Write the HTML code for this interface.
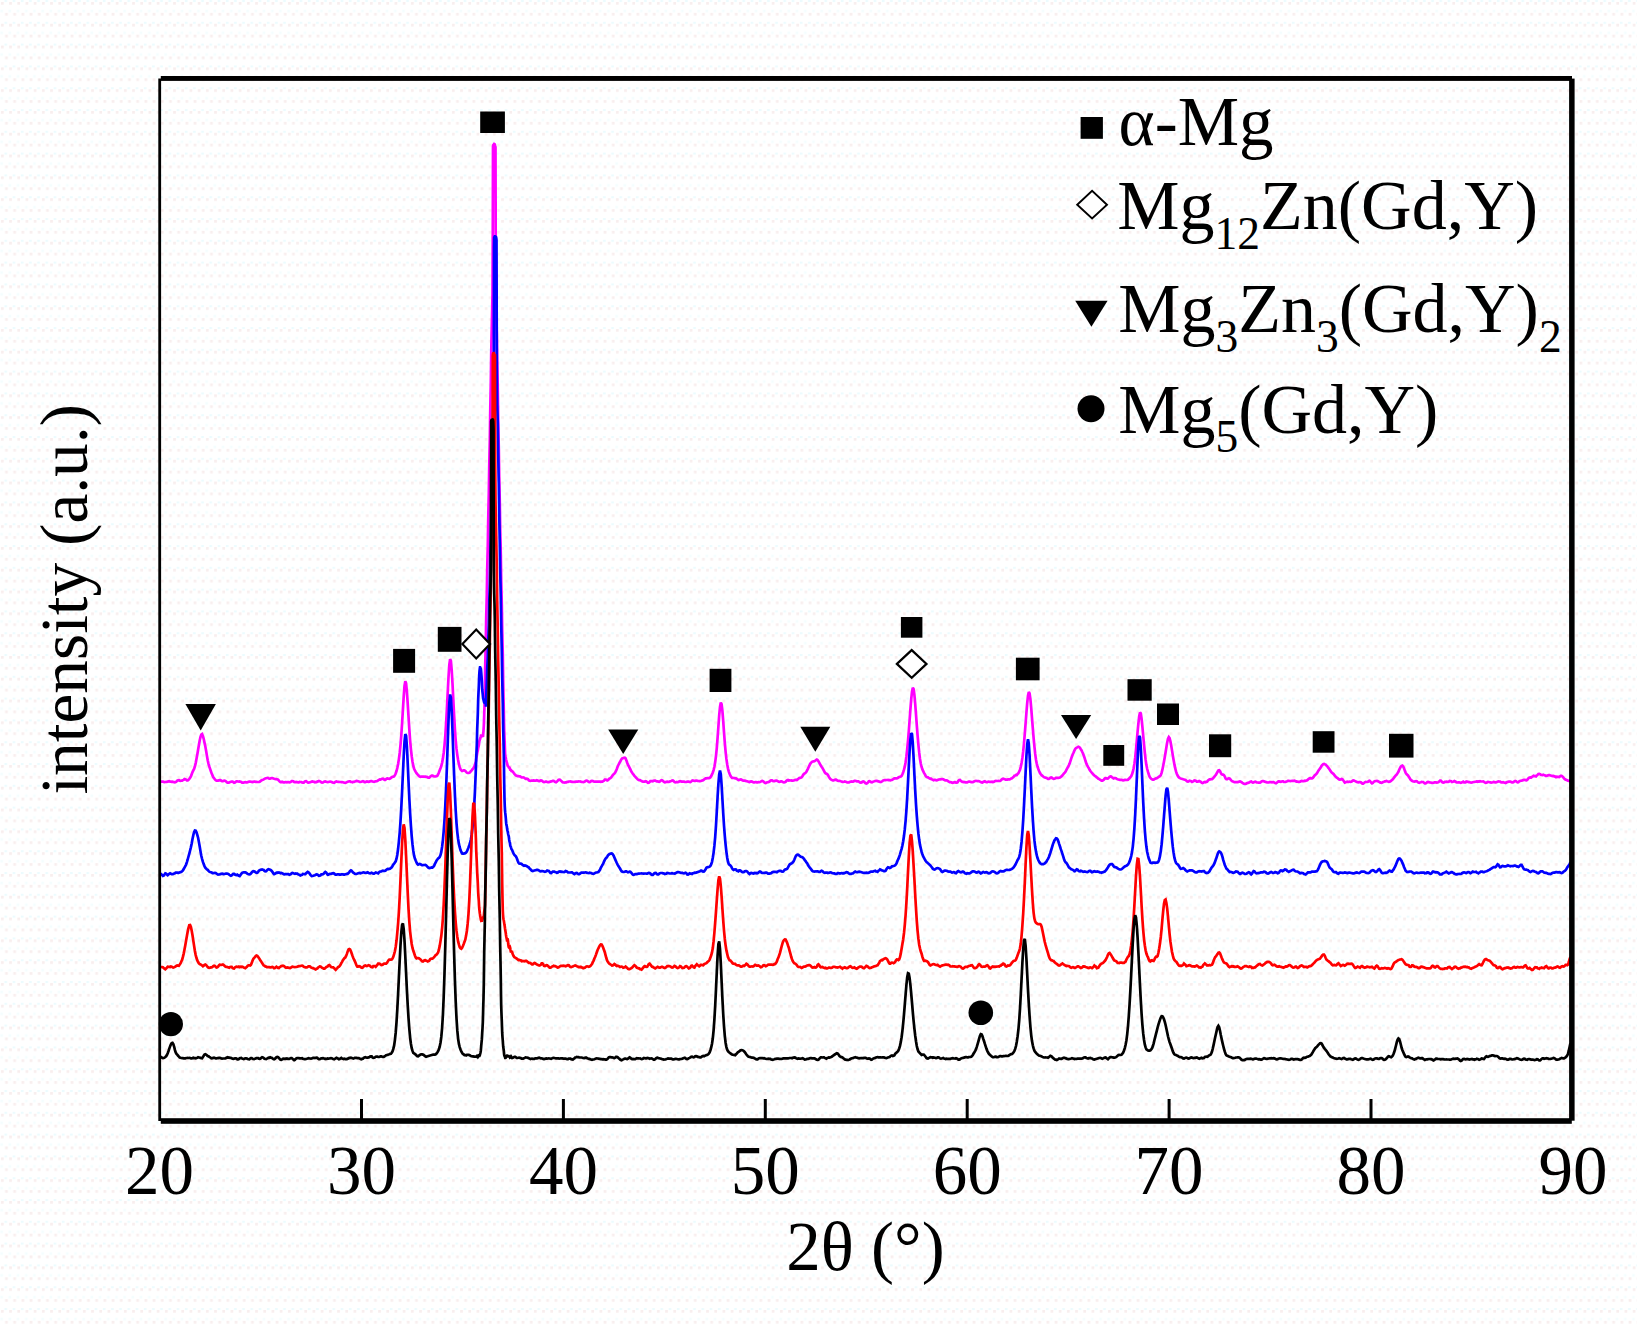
<!DOCTYPE html>
<html><head><meta charset="utf-8"><title>XRD patterns</title>
<style>
html,body{margin:0;padding:0;background:#fff;}
body{width:1637px;height:1327px;overflow:hidden;}
svg{display:block;}
text{font-family:"Liberation Serif","Times New Roman",serif;fill:#000;}
.c{fill:none;stroke-width:2.7;stroke-linejoin:miter;stroke-miterlimit:2;stroke-linecap:butt;}
</style></head><body>
<svg width="1637" height="1327" viewBox="0 0 1637 1327">
<defs><pattern id="dz" width="8.2" height="21.8" patternUnits="userSpaceOnUse">
<rect x="1" y="2" width="2.7" height="2.7" fill="#f8eeee"/><rect x="5.1" y="12.9" width="2.7" height="2.7" fill="#f8eeee"/>
<rect x="4.4" y="-0.6" width="2.7" height="2.7" fill="#ecfbfe"/><rect x="0.3" y="9.6" width="2.7" height="2.7" fill="#ecfbfe" opacity="0.6"/>
</pattern></defs>
<rect width="1637" height="1327" fill="#fff"/>
<rect width="1637" height="1327" fill="url(#dz)"/>
<g id="curves">
<path class="c" stroke="#ff00ff" d="M160.5 781.8L161.3 781.6L162.1 781.5L162.9 781.6L163.7 782.0L164.5 782.1L165.3 782.0L166.1 781.9L166.9 781.9L167.7 781.6L168.5 781.4L169.3 781.2L170.1 781.6L170.9 781.6L171.7 781.8L172.5 781.6L173.3 782.0L174.1 782.1L174.9 782.3L175.7 782.1L176.5 781.5L177.3 780.6L178.1 780.2L178.9 780.1L179.7 780.7L180.5 780.8L181.3 780.7L182.1 780.6L182.9 780.1L183.7 779.8L184.5 779.0L185.3 779.3L186.1 779.6L186.9 780.4L187.7 780.4L188.5 779.7L189.3 778.8L190.1 777.7L190.9 776.3L191.7 774.2L192.5 772.1L193.3 770.4L194.1 768.9L194.9 766.5L195.7 763.1L196.5 758.8L197.3 754.4L198.1 749.7L198.9 745.0L199.7 740.5L200.5 736.9L201.3 734.7L202.1 734.1L202.9 735.9L203.7 738.8L204.5 742.6L205.3 746.3L206.1 750.8L206.9 755.6L207.7 760.3L208.5 763.8L209.3 766.5L210.1 768.9L210.9 771.2L211.7 773.6L212.5 775.4L213.3 777.2L214.1 778.3L214.9 779.4L215.7 780.1L216.5 780.6L217.3 780.6L218.1 780.6L218.9 780.4L219.7 780.2L220.5 780.2L221.3 780.8L222.1 781.2L222.9 781.2L223.7 780.8L224.5 780.6L225.3 780.9L226.1 781.6L226.9 782.3L227.7 782.7L228.5 782.7L229.3 782.4L230.1 782.1L230.9 781.7L231.7 781.5L232.5 781.6L233.3 782.2L234.1 782.8L234.9 782.6L235.7 781.9L236.5 781.4L237.3 781.4L238.1 781.5L238.9 781.6L239.7 781.4L240.5 781.7L241.3 782.0L242.1 782.7L242.9 782.7L243.7 782.7L244.5 782.2L245.3 782.1L246.1 782.3L246.9 782.4L247.7 782.2L248.5 781.7L249.3 781.6L250.1 781.5L250.9 781.7L251.7 781.9L252.5 782.1L253.3 781.8L254.1 781.7L254.9 781.7L255.7 781.8L256.5 781.9L257.3 782.0L258.1 782.0L258.9 782.0L259.7 781.7L260.5 781.1L261.3 780.5L262.1 780.1L262.9 779.8L263.7 779.4L264.5 778.9L265.3 778.4L266.1 778.2L266.9 778.0L267.7 777.9L268.5 778.3L269.3 778.6L270.1 778.7L270.9 778.3L271.7 778.1L272.5 778.1L273.3 778.4L274.1 778.8L274.9 779.0L275.7 779.1L276.5 779.1L277.3 779.4L278.1 779.6L278.9 780.6L279.7 781.6L280.5 782.1L281.3 782.1L282.1 781.8L282.9 782.2L283.7 782.3L284.5 782.4L285.3 782.2L286.1 782.2L286.9 782.3L287.7 782.2L288.5 782.2L289.3 782.3L290.1 782.1L290.9 781.8L291.7 781.2L292.5 781.2L293.3 781.3L294.1 781.9L294.9 782.1L295.7 782.2L296.5 782.0L297.3 782.2L298.1 782.3L298.9 782.3L299.7 781.9L300.5 782.0L301.3 782.0L302.1 782.5L302.9 782.7L303.7 782.6L304.5 781.8L305.3 781.2L306.1 781.1L306.9 781.8L307.7 782.4L308.5 782.6L309.3 782.5L310.1 782.2L310.9 781.9L311.7 781.6L312.5 781.4L313.3 781.8L314.1 781.9L314.9 782.4L315.7 782.2L316.5 782.2L317.3 781.6L318.1 781.4L318.9 781.0L319.7 781.2L320.5 781.6L321.3 782.3L322.1 782.6L322.9 782.5L323.7 781.9L324.5 781.6L325.3 781.4L326.1 781.7L326.9 782.0L327.7 782.1L328.5 782.0L329.3 781.7L330.1 781.6L330.9 781.8L331.7 782.1L332.5 782.5L333.3 782.7L334.1 782.8L334.9 782.2L335.7 781.8L336.5 781.5L337.3 781.7L338.1 781.9L338.9 781.9L339.7 782.0L340.5 782.0L341.3 782.1L342.1 782.1L342.9 782.3L343.7 782.5L344.5 782.8L345.3 782.9L346.1 782.6L346.9 782.1L347.7 781.8L348.5 781.5L349.3 781.4L350.1 781.4L350.9 781.9L351.7 782.0L352.5 782.2L353.3 781.8L354.1 781.9L354.9 781.5L355.7 781.3L356.5 780.9L357.3 781.1L358.1 781.3L358.9 781.6L359.7 781.9L360.5 782.0L361.3 781.8L362.1 781.4L362.9 781.2L363.7 781.5L364.5 782.1L365.3 782.2L366.1 781.8L366.9 781.4L367.7 781.6L368.5 781.8L369.3 781.7L370.1 781.3L370.9 781.2L371.7 781.2L372.5 781.5L373.3 781.7L374.1 781.8L374.9 781.5L375.7 781.3L376.5 781.2L377.3 781.0L378.1 780.4L378.9 779.9L379.7 779.5L380.5 779.6L381.3 779.1L382.1 778.7L382.9 778.6L383.7 779.2L384.5 779.8L385.3 779.8L386.1 779.2L386.9 778.6L387.7 778.4L388.5 778.7L389.3 778.9L390.1 778.5L390.9 777.9L391.7 777.1L392.5 776.9L393.3 776.6L394.1 776.4L394.9 775.1L395.7 773.5L396.5 771.0L397.3 768.0L398.1 763.9L398.9 759.1L399.7 753.0L400.5 745.0L401.3 735.1L402.1 723.1L402.9 709.9L403.7 696.6L404.5 686.0L405.3 681.1L406.1 683.4L406.9 691.8L407.7 703.3L408.5 716.3L409.3 728.9L410.1 740.3L410.9 749.1L411.7 756.2L412.5 761.7L413.3 766.0L414.1 768.7L414.9 770.4L415.7 771.9L416.5 773.2L417.3 774.2L418.1 775.0L418.9 776.0L419.7 776.5L420.5 776.8L421.3 776.7L422.1 776.6L422.9 776.6L423.7 776.5L424.5 776.7L425.3 776.7L426.1 776.9L426.9 776.8L427.7 777.4L428.5 777.6L429.3 777.6L430.1 776.8L430.9 776.1L431.7 775.7L432.5 775.7L433.3 776.0L434.1 776.5L434.9 776.5L435.7 776.5L436.5 776.1L437.3 775.9L438.1 774.5L438.9 772.5L439.7 770.2L440.5 768.2L441.3 766.0L442.1 762.8L442.9 758.6L443.7 753.0L444.5 745.6L445.3 735.8L446.1 723.6L446.9 708.9L447.7 692.8L448.5 677.2L449.3 665.0L450.1 659.1L450.9 660.9L451.7 670.1L452.5 683.7L453.3 699.6L454.1 715.1L454.9 729.2L455.7 740.6L456.5 748.9L457.3 755.1L458.1 760.0L458.9 764.2L459.7 767.2L460.5 769.3L461.3 770.4L462.1 771.0L462.9 770.8L463.7 770.4L464.5 770.3L465.3 770.9L466.1 771.9L466.9 772.7L467.7 773.0L468.5 773.0L469.3 772.7L470.1 772.2L470.9 771.2L471.7 770.3L472.5 769.2L473.3 768.4L474.1 767.0L474.9 765.0L475.7 762.1L476.0 760.7L476.2 759.0L476.5 757.3L476.8 755.7L477.0 754.3L477.2 753.0L477.5 751.5L477.8 750.5L478.0 749.0L478.2 748.0L478.5 746.7L478.8 745.6L479.0 744.0L479.2 742.1L479.5 740.6L479.8 739.8L480.0 739.3L480.2 738.6L480.5 737.5L480.8 736.6L481.0 735.6L481.2 735.6L481.5 735.7L481.8 736.2L482.0 736.2L482.2 736.1L482.5 736.3L482.8 736.4L483.0 736.9L483.2 734.3L483.5 730.7L483.8 726.1L484.0 721.0L484.2 714.8L484.5 706.3L484.8 694.1L485.0 680.0L485.2 666.4L485.5 654.1L485.8 642.0L486.0 629.8L486.2 618.2L486.5 606.6L486.8 594.9L487.0 582.5L487.2 570.2L487.5 557.9L487.8 546.1L488.0 533.3L488.2 520.4L488.5 506.7L488.8 493.9L489.0 480.9L489.2 468.0L489.5 454.5L489.8 441.3L490.0 427.5L490.2 413.3L490.5 398.3L490.8 383.7L491.0 369.0L491.2 354.5L491.5 339.6L491.8 326.5L492.0 318.1L492.2 309.1L492.5 293.2L492.8 227.8L493.0 146.4L493.2 145.3L493.5 144.7L493.8 144.5L494.0 144.2L494.2 143.9L494.5 144.0L494.8 144.5L495.0 145.5L495.2 146.5L495.5 147.5L495.8 278.0L496.0 300.9L496.2 314.4L496.5 323.4L496.8 333.4L497.0 347.3L497.2 361.5L497.5 376.2L497.8 390.9L498.0 405.8L498.2 420.3L498.5 434.7L498.8 449.0L499.0 463.2L499.2 476.8L499.5 489.9L499.8 503.0L500.0 516.5L500.2 529.5L500.5 542.0L500.8 554.7L501.0 567.4L501.2 580.2L501.5 592.4L501.8 604.9L502.0 617.4L502.2 630.0L502.5 642.7L502.8 655.6L503.0 669.0L503.2 683.0L503.5 697.6L503.8 711.1L504.0 722.2L504.2 730.6L504.5 738.2L504.8 745.4L505.0 750.8L505.2 755.2L505.5 756.9L505.8 757.8L506.0 759.2L506.2 760.4L506.5 761.6L506.8 762.2L507.0 763.1L507.2 764.2L507.5 765.3L507.8 766.0L508.0 766.1L508.2 766.4L508.5 766.9L508.8 767.4L509.0 767.4L509.2 767.4L509.5 767.5L509.8 768.3L510.0 769.0L510.2 769.8L510.5 769.9L510.8 769.9L511.0 770.1L511.2 770.6L511.5 771.1L511.8 771.2L512.0 771.0L512.8 771.6L513.6 772.8L514.4 773.9L515.2 774.8L516.0 775.5L516.8 775.8L517.6 776.2L518.4 776.2L519.2 776.3L520.0 776.4L520.8 776.9L521.6 777.4L522.4 777.5L523.2 777.3L524.0 777.6L524.8 778.3L525.6 778.9L526.4 778.7L527.2 778.9L528.0 779.2L528.8 780.3L529.6 780.6L530.4 780.8L531.2 780.7L532.0 780.7L532.8 780.6L533.6 780.4L534.4 780.6L535.2 780.6L536.0 780.7L536.8 780.3L537.6 780.5L538.4 780.9L539.2 781.1L540.0 780.9L540.8 780.4L541.6 780.6L542.4 781.1L543.2 781.9L544.0 782.1L544.8 782.0L545.6 781.6L546.4 781.6L547.2 782.0L548.0 782.2L548.8 782.1L549.6 781.8L550.4 781.7L551.2 781.4L552.0 781.2L552.8 780.8L553.6 780.9L554.4 781.5L555.2 782.0L556.0 782.2L556.8 781.6L557.6 780.9L558.4 780.0L559.2 779.7L560.0 779.8L560.8 780.6L561.6 781.3L562.4 782.0L563.2 782.4L564.0 782.5L564.8 782.6L565.6 782.3L566.4 782.4L567.2 781.9L568.0 781.9L568.8 781.5L569.6 781.5L570.4 781.4L571.2 781.7L572.0 781.8L572.8 781.9L573.6 782.0L574.4 781.9L575.2 781.8L576.0 781.6L576.8 781.6L577.6 781.7L578.4 781.4L579.2 781.5L580.0 781.4L580.8 781.8L581.6 781.9L582.4 782.0L583.2 782.1L584.0 781.9L584.8 781.6L585.6 780.9L586.4 780.6L587.2 780.7L588.0 781.3L588.8 781.9L589.6 782.0L590.4 781.7L591.2 781.0L592.0 780.8L592.8 781.0L593.6 781.5L594.4 781.7L595.2 781.7L596.0 781.6L596.8 781.6L597.6 781.6L598.4 781.6L599.2 781.6L600.0 781.7L600.8 781.9L601.6 781.7L602.4 781.6L603.2 781.1L604.0 780.7L604.8 779.6L605.6 779.5L606.4 779.7L607.2 780.4L608.0 780.0L608.8 779.3L609.6 778.5L610.4 778.2L611.2 777.4L612.0 776.3L612.8 775.0L613.6 774.2L614.4 773.6L615.2 772.6L616.0 770.9L616.8 768.9L617.6 766.7L618.4 765.0L619.2 763.4L620.0 762.0L620.8 760.4L621.6 759.1L622.4 758.2L623.2 758.1L624.0 757.8L624.8 757.7L625.6 758.3L626.4 760.4L627.2 762.8L628.0 764.9L628.8 766.2L629.6 767.8L630.4 769.4L631.2 771.3L632.0 772.4L632.8 773.8L633.6 774.7L634.4 775.9L635.2 776.6L636.0 777.6L636.8 778.4L637.6 779.3L638.4 779.8L639.2 780.2L640.0 780.2L640.8 780.6L641.6 781.0L642.4 781.4L643.2 781.7L644.0 781.7L644.8 781.6L645.6 781.2L646.4 781.5L647.2 782.2L648.0 782.8L648.8 782.7L649.6 782.0L650.4 781.1L651.2 781.0L652.0 781.1L652.8 781.3L653.6 780.7L654.4 780.5L655.2 780.5L656.0 781.1L656.8 781.3L657.6 781.4L658.4 781.6L659.2 781.8L660.0 781.4L660.8 780.6L661.6 780.2L662.4 780.4L663.2 781.2L664.0 781.8L664.8 782.3L665.6 782.1L666.4 781.8L667.2 781.7L668.0 781.9L668.8 781.8L669.6 781.7L670.4 781.3L671.2 781.1L672.0 780.6L672.8 780.5L673.6 781.1L674.4 782.0L675.2 782.4L676.0 782.2L676.8 782.0L677.6 782.2L678.4 782.0L679.2 781.5L680.0 781.1L680.8 781.3L681.6 781.7L682.4 781.6L683.2 781.6L684.0 781.6L684.8 782.0L685.6 782.0L686.4 782.0L687.2 781.7L688.0 781.7L688.8 781.7L689.6 782.0L690.4 782.1L691.2 781.5L692.0 780.8L692.8 780.5L693.6 780.8L694.4 780.9L695.2 780.9L696.0 780.7L696.8 780.6L697.6 780.9L698.4 781.0L699.2 781.2L700.0 781.1L700.8 781.0L701.6 780.7L702.4 780.4L703.2 780.2L704.0 779.5L704.8 779.0L705.6 778.4L706.4 778.3L707.2 778.1L708.0 778.1L708.8 778.1L709.6 777.9L710.4 777.3L711.2 776.1L712.0 774.4L712.8 772.5L713.6 770.1L714.4 766.8L715.2 762.1L716.0 755.8L716.8 747.8L717.6 737.7L718.4 726.5L719.2 715.4L720.0 706.9L720.8 702.6L721.6 704.1L722.4 710.8L723.2 720.9L724.0 732.2L724.8 742.8L725.6 751.7L726.4 758.9L727.2 764.4L728.0 768.6L728.8 771.6L729.6 773.8L730.4 775.7L731.2 777.0L732.0 777.8L732.8 777.8L733.6 778.0L734.4 778.0L735.2 778.3L736.0 778.3L736.8 778.9L737.6 779.5L738.4 780.1L739.2 779.9L740.0 779.5L740.8 779.4L741.6 779.8L742.4 780.3L743.2 780.6L744.0 780.6L744.8 780.7L745.6 780.9L746.4 781.1L747.2 781.2L748.0 781.6L748.8 781.9L749.6 782.0L750.4 781.6L751.2 781.4L752.0 781.5L752.8 782.1L753.6 782.4L754.4 782.4L755.2 782.1L756.0 782.1L756.8 782.3L757.6 782.3L758.4 782.2L759.2 782.2L760.0 782.0L760.8 781.6L761.6 781.1L762.4 780.9L763.2 781.3L764.0 782.0L764.8 782.8L765.6 783.0L766.4 782.7L767.2 782.2L768.0 782.1L768.8 781.9L769.6 781.6L770.4 780.7L771.2 780.3L772.0 780.3L772.8 781.0L773.6 781.2L774.4 781.1L775.2 780.8L776.0 780.7L776.8 780.7L777.6 781.1L778.4 781.5L779.2 781.9L780.0 781.7L780.8 781.4L781.6 781.4L782.4 781.8L783.2 782.1L784.0 782.3L784.8 782.1L785.6 781.8L786.4 780.8L787.2 780.3L788.0 780.0L788.8 780.5L789.6 780.4L790.4 780.5L791.2 780.4L792.0 780.6L792.8 780.7L793.6 780.5L794.4 780.2L795.2 779.9L796.0 779.9L796.8 780.0L797.6 779.4L798.4 778.7L799.2 778.0L800.0 777.9L800.8 777.8L801.6 777.3L802.4 776.2L803.2 774.8L804.0 773.8L804.8 773.3L805.6 772.8L806.4 771.8L807.2 770.2L808.0 768.6L808.8 766.8L809.6 765.2L810.4 763.6L811.2 762.6L812.0 761.8L812.8 761.5L813.6 761.4L814.4 761.3L815.2 760.8L816.0 760.0L816.8 759.6L817.6 760.0L818.4 761.1L819.2 762.6L820.0 764.1L820.8 765.6L821.6 766.8L822.4 767.9L823.2 769.3L824.0 770.8L824.8 772.4L825.6 773.3L826.4 773.7L827.2 774.1L828.0 775.2L828.8 776.7L829.6 778.1L830.4 779.1L831.2 779.7L832.0 780.1L832.8 780.4L833.6 780.4L834.4 780.1L835.2 779.7L836.0 779.7L836.8 780.2L837.6 780.8L838.4 780.9L839.2 780.9L840.0 781.0L840.8 781.3L841.6 781.5L842.4 781.9L843.2 782.0L844.0 781.8L844.8 781.5L845.6 781.7L846.4 781.9L847.2 782.4L848.0 782.5L848.8 782.5L849.6 782.0L850.4 781.7L851.2 781.5L852.0 781.7L852.8 781.6L853.6 781.4L854.4 780.9L855.2 780.9L856.0 781.0L856.8 781.3L857.6 781.3L858.4 781.4L859.2 781.8L860.0 782.4L860.8 782.6L861.6 782.4L862.4 781.8L863.2 781.5L864.0 781.8L864.8 782.5L865.6 783.4L866.4 783.6L867.2 783.2L868.0 782.3L868.8 781.3L869.6 781.2L870.4 781.6L871.2 782.2L872.0 782.3L872.8 781.9L873.6 781.5L874.4 781.3L875.2 781.0L876.0 780.9L876.8 780.8L877.6 781.2L878.4 781.3L879.2 781.7L880.0 781.8L880.8 782.0L881.6 781.6L882.4 781.1L883.2 780.5L884.0 780.3L884.8 780.1L885.6 780.1L886.4 780.0L887.2 780.0L888.0 779.9L888.8 780.2L889.6 780.2L890.4 780.4L891.2 780.0L892.0 780.0L892.8 779.5L893.6 778.9L894.4 778.3L895.2 778.3L896.0 778.4L896.8 778.4L897.6 778.0L898.4 777.5L899.2 777.1L900.0 776.8L900.8 776.6L901.6 775.9L902.4 774.3L903.2 772.2L904.0 769.7L904.8 766.7L905.6 762.2L906.4 756.5L907.2 749.1L908.0 740.9L908.8 731.1L909.6 720.5L910.4 709.4L911.2 699.4L912.0 691.6L912.8 687.8L913.6 689.0L914.4 694.9L915.2 703.9L916.0 714.4L916.8 725.3L917.6 735.6L918.4 744.9L919.2 752.7L920.0 759.0L920.8 763.7L921.6 767.0L922.4 769.4L923.2 771.2L924.0 772.8L924.8 774.2L925.6 775.7L926.4 776.8L927.2 777.3L928.0 777.4L928.8 778.0L929.6 778.3L930.4 778.8L931.2 778.7L932.0 779.4L932.8 779.8L933.6 780.2L934.4 779.8L935.2 779.9L936.0 780.2L936.8 780.3L937.6 780.1L938.4 779.6L939.2 779.5L940.0 779.3L940.8 779.3L941.6 779.0L942.4 779.0L943.2 779.3L944.0 779.7L944.8 780.2L945.6 780.4L946.4 780.4L947.2 780.5L948.0 781.1L948.8 781.7L949.6 782.1L950.4 782.1L951.2 782.3L952.0 782.7L952.8 782.8L953.6 782.6L954.4 782.2L955.2 782.2L956.0 782.7L956.8 782.7L957.6 782.2L958.4 780.6L959.2 780.1L960.0 779.9L960.8 780.9L961.6 781.3L962.4 781.9L963.2 781.9L964.0 782.2L964.8 782.2L965.6 782.4L966.4 782.3L967.2 782.3L968.0 781.9L968.8 781.6L969.6 781.6L970.4 781.8L971.2 782.1L972.0 782.2L972.8 782.1L973.6 781.8L974.4 781.3L975.2 781.0L976.0 780.9L976.8 781.0L977.6 781.1L978.4 781.1L979.2 781.3L980.0 781.6L980.8 782.1L981.6 782.4L982.4 782.6L983.2 781.9L984.0 781.5L984.8 781.3L985.6 781.9L986.4 782.2L987.2 782.2L988.0 781.8L988.8 781.6L989.6 781.9L990.4 781.8L991.2 781.8L992.0 781.7L992.8 782.1L993.6 781.9L994.4 781.6L995.2 781.0L996.0 780.9L996.8 781.0L997.6 781.0L998.4 780.9L999.2 781.0L1000.0 780.9L1000.8 780.5L1001.6 779.5L1002.4 779.0L1003.2 778.6L1004.0 778.9L1004.8 779.2L1005.6 779.7L1006.4 779.7L1007.2 779.6L1008.0 779.4L1008.8 779.4L1009.6 779.3L1010.4 779.1L1011.2 778.5L1012.0 778.3L1012.8 777.5L1013.6 776.9L1014.4 775.7L1015.2 775.5L1016.0 774.9L1016.8 775.0L1017.6 774.0L1018.4 773.3L1019.2 771.5L1020.0 769.8L1020.8 766.6L1021.6 762.8L1022.4 757.9L1023.2 751.4L1024.0 743.3L1024.8 733.6L1025.6 723.4L1026.4 712.9L1027.2 703.1L1028.0 695.6L1028.8 692.0L1029.6 693.5L1030.4 699.2L1031.2 707.9L1032.0 718.1L1032.8 728.1L1033.6 737.8L1034.4 746.3L1035.2 753.9L1036.0 759.8L1036.8 764.0L1037.6 766.8L1038.4 769.2L1039.2 771.2L1040.0 773.0L1040.8 774.3L1041.6 775.2L1042.4 775.8L1043.2 776.5L1044.0 777.1L1044.8 777.5L1045.6 777.6L1046.4 777.9L1047.2 778.4L1048.0 778.9L1048.8 778.9L1049.6 778.4L1050.4 777.8L1051.2 777.5L1052.0 777.8L1052.8 778.4L1053.6 778.9L1054.4 778.8L1055.2 778.3L1056.0 777.8L1056.8 777.8L1057.6 777.8L1058.4 777.9L1059.2 777.7L1060.0 777.5L1060.8 777.0L1061.6 776.3L1062.4 775.3L1063.2 774.4L1064.0 773.4L1064.8 772.6L1065.6 771.5L1066.4 769.9L1067.2 768.3L1068.0 767.0L1068.8 765.4L1069.6 763.6L1070.4 761.1L1071.2 758.6L1072.0 756.3L1072.8 754.3L1073.6 752.5L1074.4 750.5L1075.2 749.0L1076.0 748.0L1076.8 747.6L1077.6 747.1L1078.4 746.8L1079.2 747.1L1080.0 747.9L1080.8 749.2L1081.6 750.4L1082.4 752.3L1083.2 754.0L1084.0 756.2L1084.8 758.6L1085.6 761.3L1086.4 763.7L1087.2 765.3L1088.0 766.8L1088.8 768.2L1089.6 769.8L1090.4 771.0L1091.2 772.0L1092.0 773.0L1092.8 773.9L1093.6 774.8L1094.4 775.5L1095.2 776.2L1096.0 776.7L1096.8 777.4L1097.6 778.0L1098.4 778.8L1099.2 779.0L1100.0 779.7L1100.8 780.1L1101.6 780.7L1102.4 780.7L1103.2 780.2L1104.0 779.5L1104.8 778.5L1105.6 778.2L1106.4 778.4L1107.2 778.6L1108.0 778.5L1108.8 777.6L1109.6 776.9L1110.4 776.4L1111.2 776.6L1112.0 777.3L1112.8 777.9L1113.6 778.4L1114.4 778.1L1115.2 778.0L1116.0 778.2L1116.8 778.9L1117.6 779.3L1118.4 779.5L1119.2 779.7L1120.0 779.8L1120.8 779.8L1121.6 779.8L1122.4 780.1L1123.2 780.3L1124.0 780.2L1124.8 779.9L1125.6 779.8L1126.4 780.0L1127.2 779.9L1128.0 779.7L1128.8 778.8L1129.6 778.2L1130.4 777.2L1131.2 776.3L1132.0 774.3L1132.8 772.0L1133.6 768.5L1134.4 764.0L1135.2 757.7L1136.0 749.6L1136.8 740.9L1137.6 731.7L1138.4 723.4L1139.2 716.2L1140.0 712.5L1140.8 713.4L1141.6 719.0L1142.4 726.9L1143.2 735.6L1144.0 744.2L1144.8 752.5L1145.6 759.7L1146.4 765.1L1147.2 769.0L1148.0 771.9L1148.8 774.5L1149.6 776.7L1150.4 778.0L1151.2 778.8L1152.0 779.3L1152.8 779.7L1153.6 779.7L1154.4 779.1L1155.2 778.7L1156.0 778.4L1156.8 778.3L1157.6 777.7L1158.4 777.0L1159.2 776.5L1160.0 776.1L1160.8 775.1L1161.6 772.9L1162.4 769.7L1163.2 765.8L1164.0 761.5L1164.8 757.0L1165.6 752.3L1166.4 747.3L1167.2 742.4L1168.0 738.7L1168.8 737.1L1169.6 738.2L1170.4 741.2L1171.2 745.6L1172.0 750.4L1172.8 755.4L1173.6 759.9L1174.4 764.4L1175.2 768.2L1176.0 771.4L1176.8 773.8L1177.6 775.6L1178.4 776.8L1179.2 777.6L1180.0 778.1L1180.8 778.5L1181.6 778.7L1182.4 778.9L1183.2 779.3L1184.0 779.5L1184.8 779.7L1185.6 779.9L1186.4 780.8L1187.2 781.4L1188.0 781.5L1188.8 781.2L1189.6 780.7L1190.4 781.0L1191.2 781.3L1192.0 782.0L1192.8 781.6L1193.6 781.2L1194.4 780.4L1195.2 780.5L1196.0 780.9L1196.8 781.6L1197.6 781.6L1198.4 781.5L1199.2 781.0L1200.0 781.4L1200.8 781.9L1201.6 782.7L1202.4 783.0L1203.2 782.7L1204.0 782.3L1204.8 781.9L1205.6 782.3L1206.4 781.9L1207.2 781.6L1208.0 780.5L1208.8 779.9L1209.6 779.4L1210.4 779.3L1211.2 779.2L1212.0 779.1L1212.8 778.6L1213.6 777.6L1214.4 776.7L1215.2 775.5L1216.0 774.7L1216.8 773.2L1217.6 771.8L1218.4 770.5L1219.2 770.3L1220.0 771.1L1220.8 772.8L1221.6 774.3L1222.4 774.7L1223.2 774.6L1224.0 775.1L1224.8 776.5L1225.6 778.4L1226.4 779.2L1227.2 779.2L1228.0 778.6L1228.8 778.3L1229.6 778.4L1230.4 779.4L1231.2 780.4L1232.0 781.1L1232.8 781.4L1233.6 781.8L1234.4 782.1L1235.2 782.2L1236.0 782.1L1236.8 782.1L1237.6 782.1L1238.4 781.9L1239.2 781.6L1240.0 781.5L1240.8 781.8L1241.6 782.2L1242.4 782.8L1243.2 783.3L1244.0 783.8L1244.8 784.0L1245.6 784.0L1246.4 783.5L1247.2 783.1L1248.0 782.9L1248.8 782.8L1249.6 782.1L1250.4 781.7L1251.2 781.5L1252.0 782.1L1252.8 782.5L1253.6 782.4L1254.4 781.9L1255.2 781.6L1256.0 782.0L1256.8 782.4L1257.6 782.5L1258.4 782.6L1259.2 782.7L1260.0 782.7L1260.8 782.1L1261.6 781.5L1262.4 781.1L1263.2 781.2L1264.0 781.3L1264.8 781.7L1265.6 781.9L1266.4 782.2L1267.2 782.4L1268.0 782.5L1268.8 782.5L1269.6 782.1L1270.4 782.1L1271.2 782.2L1272.0 782.3L1272.8 782.2L1273.6 782.1L1274.4 782.6L1275.2 783.0L1276.0 783.3L1276.8 782.7L1277.6 782.0L1278.4 781.4L1279.2 781.4L1280.0 781.7L1280.8 781.8L1281.6 781.5L1282.4 781.4L1283.2 781.4L1284.0 782.0L1284.8 782.0L1285.6 782.0L1286.4 781.6L1287.2 781.3L1288.0 780.9L1288.8 780.8L1289.6 781.0L1290.4 781.1L1291.2 781.0L1292.0 780.9L1292.8 780.9L1293.6 780.8L1294.4 780.7L1295.2 780.9L1296.0 781.4L1296.8 781.6L1297.6 781.7L1298.4 781.8L1299.2 781.9L1300.0 781.7L1300.8 781.2L1301.6 780.9L1302.4 781.1L1303.2 781.0L1304.0 781.1L1304.8 780.7L1305.6 780.9L1306.4 780.6L1307.2 780.3L1308.0 779.5L1308.8 778.8L1309.6 778.3L1310.4 778.2L1311.2 778.3L1312.0 778.4L1312.8 777.9L1313.6 776.9L1314.4 775.7L1315.2 775.0L1316.0 774.3L1316.8 773.5L1317.6 772.1L1318.4 770.7L1319.2 769.6L1320.0 768.4L1320.8 767.2L1321.6 765.8L1322.4 764.9L1323.2 764.1L1324.0 763.9L1324.8 764.3L1325.6 764.6L1326.4 765.5L1327.2 766.1L1328.0 767.4L1328.8 768.3L1329.6 769.5L1330.4 770.7L1331.2 772.0L1332.0 772.8L1332.8 773.5L1333.6 774.0L1334.4 775.2L1335.2 776.1L1336.0 777.1L1336.8 777.6L1337.6 778.2L1338.4 778.8L1339.2 779.4L1340.0 779.6L1340.8 779.5L1341.6 779.0L1342.4 779.2L1343.2 780.2L1344.0 781.6L1344.8 782.6L1345.6 782.3L1346.4 781.9L1347.2 781.7L1348.0 781.8L1348.8 781.9L1349.6 781.6L1350.4 781.9L1351.2 781.7L1352.0 781.3L1352.8 780.6L1353.6 780.4L1354.4 780.8L1355.2 781.1L1356.0 781.6L1356.8 781.9L1357.6 782.2L1358.4 782.3L1359.2 782.2L1360.0 782.1L1360.8 782.3L1361.6 782.9L1362.4 783.6L1363.2 783.6L1364.0 783.0L1364.8 782.3L1365.6 781.9L1366.4 782.0L1367.2 782.0L1368.0 781.7L1368.8 781.0L1369.6 780.7L1370.4 781.5L1371.2 782.7L1372.0 783.4L1372.8 783.0L1373.6 782.0L1374.4 781.4L1375.2 781.1L1376.0 781.0L1376.8 780.9L1377.6 781.1L1378.4 781.5L1379.2 781.9L1380.0 782.4L1380.8 782.6L1381.6 782.8L1382.4 782.6L1383.2 782.0L1384.0 781.7L1384.8 781.3L1385.6 781.3L1386.4 781.0L1387.2 781.3L1388.0 781.5L1388.8 781.9L1389.6 781.7L1390.4 781.3L1391.2 780.7L1392.0 780.0L1392.8 779.3L1393.6 778.2L1394.4 777.1L1395.2 776.1L1396.0 775.2L1396.8 774.4L1397.6 773.1L1398.4 771.8L1399.2 769.8L1400.0 768.1L1400.8 766.6L1401.6 765.8L1402.4 765.5L1403.2 766.4L1404.0 768.2L1404.8 770.6L1405.6 772.6L1406.4 773.9L1407.2 774.8L1408.0 775.5L1408.8 776.7L1409.6 777.9L1410.4 779.4L1411.2 780.2L1412.0 780.8L1412.8 781.2L1413.6 781.5L1414.4 781.6L1415.2 781.4L1416.0 781.1L1416.8 781.3L1417.6 782.0L1418.4 782.6L1419.2 782.8L1420.0 782.4L1420.8 782.2L1421.6 781.9L1422.4 782.0L1423.2 782.1L1424.0 782.7L1424.8 783.4L1425.6 783.4L1426.4 783.0L1427.2 782.1L1428.0 781.9L1428.8 782.0L1429.6 782.4L1430.4 782.5L1431.2 782.7L1432.0 782.8L1432.8 782.9L1433.6 782.7L1434.4 782.4L1435.2 782.4L1436.0 782.4L1436.8 782.6L1437.6 782.5L1438.4 782.1L1439.2 781.4L1440.0 780.7L1440.8 780.7L1441.6 781.5L1442.4 782.3L1443.2 782.6L1444.0 782.4L1444.8 781.9L1445.6 781.8L1446.4 781.7L1447.2 781.9L1448.0 781.8L1448.8 781.7L1449.6 781.0L1450.4 781.1L1451.2 781.3L1452.0 782.0L1452.8 781.8L1453.6 781.5L1454.4 781.1L1455.2 781.5L1456.0 782.0L1456.8 782.5L1457.6 782.5L1458.4 782.4L1459.2 782.4L1460.0 782.5L1460.8 782.8L1461.6 782.5L1462.4 782.1L1463.2 781.7L1464.0 782.3L1464.8 782.3L1465.6 782.3L1466.4 781.5L1467.2 781.7L1468.0 781.8L1468.8 782.2L1469.6 782.2L1470.4 782.5L1471.2 782.6L1472.0 782.5L1472.8 782.2L1473.6 782.0L1474.4 782.0L1475.2 781.7L1476.0 781.6L1476.8 781.4L1477.6 781.7L1478.4 781.4L1479.2 781.5L1480.0 781.2L1480.8 781.5L1481.6 781.5L1482.4 781.5L1483.2 781.4L1484.0 781.8L1484.8 782.4L1485.6 782.9L1486.4 782.8L1487.2 782.3L1488.0 781.9L1488.8 782.0L1489.6 782.2L1490.4 782.4L1491.2 782.6L1492.0 782.5L1492.8 782.3L1493.6 782.0L1494.4 782.1L1495.2 782.3L1496.0 782.4L1496.8 782.1L1497.6 781.7L1498.4 781.4L1499.2 781.5L1500.0 781.6L1500.8 782.2L1501.6 782.3L1502.4 782.4L1503.2 782.2L1504.0 782.6L1504.8 782.8L1505.6 783.0L1506.4 782.5L1507.2 782.0L1508.0 781.8L1508.8 781.7L1509.6 781.7L1510.4 781.7L1511.2 782.0L1512.0 782.4L1512.8 782.4L1513.6 782.0L1514.4 781.3L1515.2 780.9L1516.0 781.1L1516.8 781.9L1517.6 782.3L1518.4 782.2L1519.2 781.4L1520.0 781.0L1520.8 780.7L1521.6 780.6L1522.4 780.5L1523.2 780.1L1524.0 779.9L1524.8 779.8L1525.6 780.2L1526.4 780.3L1527.2 779.9L1528.0 778.9L1528.8 777.9L1529.6 777.6L1530.4 777.4L1531.2 777.5L1532.0 776.8L1532.8 776.4L1533.6 775.8L1534.4 776.1L1535.2 776.2L1536.0 776.4L1536.8 775.6L1537.6 774.9L1538.4 773.9L1539.2 773.8L1540.0 774.1L1540.8 774.7L1541.6 775.0L1542.4 775.1L1543.2 774.7L1544.0 775.0L1544.8 775.2L1545.6 775.9L1546.4 775.8L1547.2 775.7L1548.0 775.3L1548.8 775.2L1549.6 775.2L1550.4 775.4L1551.2 775.8L1552.0 775.9L1552.8 776.1L1553.6 775.9L1554.4 776.4L1555.2 776.6L1556.0 777.1L1556.8 776.7L1557.6 776.9L1558.4 776.9L1559.2 777.0L1560.0 776.4L1560.8 775.9L1561.6 775.8L1562.4 776.4L1563.2 777.3L1564.0 778.4L1564.8 779.2L1565.6 779.7L1566.4 779.8L1567.2 780.3L1568.0 780.7L1568.8 780.9L1569.6 780.7L1570.4 780.8"/>
<path class="c" stroke="#0000ff" d="M160.5 873.7L161.3 874.3L162.1 874.9L162.9 875.9L163.7 875.6L164.5 874.5L165.3 873.4L166.1 873.7L166.9 874.6L167.7 875.2L168.5 874.6L169.3 873.8L170.1 873.3L170.9 873.7L171.7 874.1L172.5 874.2L173.3 873.9L174.1 873.5L174.9 873.2L175.7 872.6L176.5 872.7L177.3 872.6L178.1 873.0L178.9 872.6L179.7 872.5L180.5 872.0L181.3 871.9L182.1 871.3L182.9 870.5L183.7 869.0L184.5 867.6L185.3 866.2L186.1 864.5L186.9 862.1L187.7 859.5L188.5 856.5L189.3 853.6L190.1 850.5L190.9 847.2L191.7 843.5L192.5 839.1L193.3 835.2L194.1 832.0L194.9 830.5L195.7 830.7L196.5 832.3L197.3 834.8L198.1 837.7L198.9 841.9L199.7 846.6L200.5 851.4L201.3 855.7L202.1 859.0L202.9 861.9L203.7 864.1L204.5 866.1L205.3 867.7L206.1 868.6L206.9 869.3L207.7 869.8L208.5 870.9L209.3 871.7L210.1 872.0L210.9 872.2L211.7 872.5L212.5 873.2L213.3 873.2L214.1 873.0L214.9 872.8L215.7 873.0L216.5 873.6L217.3 874.1L218.1 874.6L218.9 874.5L219.7 874.5L220.5 874.1L221.3 873.8L222.1 873.7L222.9 873.9L223.7 874.1L224.5 874.0L225.3 873.8L226.1 873.6L226.9 873.5L227.7 873.7L228.5 874.1L229.3 874.8L230.1 875.4L230.9 875.7L231.7 875.4L232.5 874.6L233.3 873.9L234.1 873.8L234.9 874.5L235.7 874.9L236.5 875.1L237.3 874.7L238.1 875.3L238.9 875.7L239.7 876.1L240.5 875.0L241.3 873.9L242.1 872.8L242.9 872.5L243.7 872.4L244.5 872.3L245.3 872.4L246.1 872.6L246.9 873.4L247.7 873.9L248.5 874.3L249.3 874.4L250.1 874.2L250.9 873.6L251.7 872.4L252.5 871.7L253.3 871.2L254.1 871.3L254.9 871.7L255.7 872.4L256.5 872.9L257.3 872.7L258.1 871.8L258.9 870.7L259.7 870.1L260.5 869.8L261.3 869.7L262.1 869.4L262.9 869.7L263.7 870.0L264.5 870.9L265.3 871.4L266.1 871.3L266.9 870.3L267.7 869.5L268.5 869.1L269.3 869.4L270.1 869.8L270.9 870.2L271.7 870.9L272.5 872.1L273.3 873.4L274.1 874.1L274.9 873.7L275.7 873.3L276.5 872.7L277.3 872.8L278.1 872.4L278.9 872.7L279.7 872.7L280.5 873.2L281.3 873.0L282.1 873.2L282.9 873.6L283.7 874.2L284.5 874.3L285.3 874.2L286.1 874.1L286.9 874.2L287.7 874.2L288.5 874.2L289.3 874.7L290.1 874.5L290.9 874.2L291.7 873.2L292.5 873.0L293.3 873.2L294.1 873.6L294.9 873.9L295.7 873.5L296.5 873.7L297.3 873.7L298.1 874.2L298.9 874.6L299.7 875.0L300.5 875.5L301.3 875.1L302.1 874.8L302.9 873.9L303.7 874.0L304.5 874.1L305.3 874.1L306.1 873.3L306.9 872.5L307.7 871.9L308.5 872.3L309.3 873.1L310.1 874.4L310.9 875.4L311.7 876.1L312.5 876.0L313.3 875.8L314.1 875.4L314.9 875.2L315.7 874.8L316.5 874.4L317.3 874.5L318.1 875.0L318.9 875.8L319.7 875.7L320.5 875.3L321.3 874.4L322.1 874.4L322.9 874.2L323.7 873.8L324.5 872.6L325.3 871.9L326.1 872.4L326.9 873.7L327.7 874.7L328.5 874.6L329.3 874.0L330.1 873.8L330.9 873.8L331.7 873.7L332.5 873.3L333.3 873.2L334.1 873.5L334.9 874.3L335.7 874.6L336.5 874.7L337.3 874.3L338.1 874.4L338.9 874.4L339.7 874.6L340.5 874.6L341.3 874.4L342.1 874.3L342.9 874.3L343.7 874.6L344.5 874.6L345.3 874.3L346.1 874.1L346.9 873.8L347.7 873.8L348.5 873.1L349.3 872.1L350.1 870.9L350.9 870.4L351.7 870.9L352.5 871.8L353.3 872.7L354.1 873.2L354.9 873.8L355.7 874.0L356.5 874.0L357.3 873.6L358.1 873.2L358.9 873.1L359.7 873.0L360.5 873.3L361.3 873.0L362.1 872.8L362.9 872.5L363.7 872.4L364.5 872.8L365.3 872.9L366.1 872.9L366.9 872.5L367.7 872.3L368.5 872.8L369.3 873.3L370.1 873.4L370.9 873.1L371.7 872.8L372.5 873.3L373.3 873.6L374.1 873.6L374.9 873.0L375.7 872.5L376.5 872.8L377.3 873.1L378.1 873.4L378.9 872.4L379.7 871.8L380.5 871.5L381.3 871.4L382.1 870.9L382.9 870.6L383.7 870.9L384.5 871.0L385.3 870.8L386.1 870.0L386.9 869.4L387.7 869.0L388.5 869.1L389.3 868.8L390.1 868.7L390.9 868.1L391.7 867.3L392.5 866.0L393.3 864.5L394.1 863.7L394.9 862.5L395.7 861.3L396.5 858.7L397.3 854.8L398.1 848.8L398.9 841.4L399.7 832.6L400.5 821.4L401.3 807.7L402.1 791.3L402.9 773.8L403.7 756.2L404.5 742.0L405.3 734.1L406.1 735.8L406.9 746.5L407.7 763.0L408.5 781.1L409.3 798.0L410.1 813.0L410.9 825.7L411.7 836.1L412.5 844.4L413.3 850.9L414.1 855.7L414.9 858.5L415.7 860.5L416.5 862.3L417.3 863.9L418.1 864.6L418.9 864.3L419.7 863.9L420.5 864.2L421.3 864.7L422.1 865.1L422.9 865.1L423.7 865.0L424.5 865.0L425.3 864.9L426.1 865.3L426.9 866.2L427.7 867.1L428.5 867.8L429.3 868.1L430.1 867.9L430.9 867.7L431.7 867.4L432.5 867.5L433.3 866.9L434.1 865.8L434.9 863.9L435.7 862.5L436.5 860.7L437.3 859.6L438.1 858.4L438.9 857.9L439.7 857.0L440.5 855.1L441.3 851.9L442.1 846.7L442.9 840.1L443.7 831.2L444.5 820.0L445.3 805.7L446.1 788.2L446.9 767.0L447.7 743.5L448.5 720.7L449.3 703.1L450.1 694.5L450.9 697.6L451.7 711.2L452.5 731.0L453.3 753.4L454.1 774.7L454.9 794.5L455.7 810.5L456.5 823.2L457.3 832.3L458.1 839.0L458.9 843.9L459.7 847.2L460.5 850.0L461.3 852.0L462.1 853.5L462.9 853.7L463.7 853.6L464.5 853.4L465.3 853.2L466.1 852.6L466.9 851.4L467.7 849.5L468.5 847.5L469.3 845.2L470.1 842.7L470.9 839.3L471.7 834.4L472.5 827.7L473.3 818.9L474.1 807.5L474.9 792.4L475.7 773.4L476.0 765.0L476.2 758.5L476.5 752.0L476.8 745.1L477.0 737.4L477.2 729.3L477.5 721.8L477.8 714.4L478.0 706.8L478.2 699.3L478.5 692.6L478.8 686.7L479.0 680.8L479.2 675.5L479.5 671.0L479.8 668.4L480.0 667.4L480.2 667.4L480.5 668.0L480.8 668.6L481.0 669.9L481.2 672.3L481.5 676.0L481.8 680.8L482.0 685.3L482.2 689.2L482.5 692.1L482.8 694.9L483.0 697.1L483.2 698.6L483.5 699.7L483.8 701.0L484.0 702.0L484.2 702.3L484.5 702.1L484.8 702.1L485.0 702.3L485.2 702.7L485.5 703.2L485.8 704.5L486.0 706.6L486.2 698.5L486.5 689.9L486.8 682.5L487.0 675.6L487.2 668.9L487.5 662.5L487.8 656.2L488.0 649.0L488.2 641.4L488.5 633.4L488.8 625.2L489.0 615.6L489.2 605.0L489.5 594.3L489.8 583.9L490.0 573.3L490.2 561.4L490.5 549.0L490.8 536.4L491.0 523.6L491.2 510.1L491.5 495.8L491.8 481.4L492.0 466.5L492.2 452.0L492.5 437.6L492.8 424.0L493.0 413.3L493.2 405.3L493.5 394.0L493.8 373.1L494.0 247.2L494.2 237.5L494.5 236.9L494.8 236.3L495.0 236.3L495.2 236.4L495.5 237.1L495.8 237.0L496.0 237.0L496.2 237.7L496.5 240.0L496.8 350.8L497.0 390.7L497.2 405.4L497.5 414.1L497.8 423.6L498.0 437.7L498.2 453.1L498.5 468.6L498.8 483.9L499.0 498.9L499.2 513.9L499.5 528.7L499.8 543.5L500.0 557.3L500.2 571.1L500.5 584.1L500.8 597.5L501.0 610.7L501.2 624.3L501.5 637.8L501.8 651.6L502.0 665.0L502.2 678.3L502.5 690.8L502.8 703.4L503.0 716.1L503.2 728.8L503.5 741.3L503.8 754.0L504.0 767.8L504.2 783.6L504.5 799.3L504.8 807.0L505.0 809.8L505.2 812.4L505.5 815.1L505.8 818.1L506.0 821.0L506.2 823.4L506.5 825.2L506.8 826.2L507.0 827.7L507.2 829.1L507.5 830.8L507.8 831.9L508.0 833.2L508.2 834.3L508.5 835.4L508.8 836.5L509.0 838.1L509.2 840.0L509.5 841.3L509.8 842.4L510.0 843.3L510.2 845.2L510.5 846.2L510.8 846.9L511.0 847.2L511.2 848.1L511.5 849.0L511.8 849.4L512.0 849.8L512.8 851.7L513.6 853.7L514.4 854.9L515.2 855.7L516.0 856.6L516.8 858.2L517.6 860.5L518.4 862.5L519.2 863.5L520.0 863.7L520.8 863.7L521.6 864.0L522.4 864.8L523.2 865.4L524.0 865.8L524.8 865.5L525.6 865.6L526.4 866.0L527.2 866.4L528.0 867.1L528.8 867.4L529.6 868.5L530.4 869.2L531.2 870.2L532.0 870.7L532.8 871.1L533.6 870.8L534.4 870.6L535.2 870.2L536.0 870.1L536.8 869.8L537.6 869.8L538.4 870.2L539.2 870.7L540.0 871.2L540.8 871.3L541.6 871.2L542.4 871.1L543.2 871.3L544.0 871.6L544.8 871.9L545.6 871.5L546.4 871.2L547.2 870.5L548.0 870.7L548.8 870.9L549.6 872.0L550.4 872.9L551.2 873.0L552.0 872.3L552.8 871.6L553.6 871.7L554.4 871.7L555.2 872.0L556.0 872.2L556.8 872.8L557.6 872.7L558.4 872.0L559.2 871.6L560.0 871.5L560.8 871.8L561.6 871.6L562.4 871.9L563.2 872.0L564.0 872.1L564.8 871.8L565.6 871.1L566.4 871.3L567.2 871.7L568.0 872.4L568.8 872.5L569.6 872.5L570.4 872.5L571.2 872.3L572.0 872.4L572.8 873.0L573.6 873.6L574.4 874.1L575.2 873.5L576.0 873.1L576.8 873.0L577.6 873.5L578.4 874.1L579.2 874.1L580.0 873.6L580.8 872.9L581.6 872.5L582.4 872.5L583.2 872.7L584.0 872.6L584.8 872.5L585.6 872.3L586.4 872.5L587.2 872.9L588.0 873.0L588.8 873.1L589.6 872.7L590.4 872.9L591.2 873.0L592.0 873.5L592.8 873.7L593.6 873.8L594.4 873.4L595.2 872.9L596.0 872.5L596.8 872.5L597.6 872.2L598.4 872.0L599.2 870.9L600.0 869.8L600.8 867.8L601.6 866.4L602.4 864.9L603.2 863.7L604.0 861.6L604.8 859.9L605.6 858.6L606.4 857.8L607.2 856.7L608.0 855.4L608.8 854.5L609.6 854.0L610.4 853.7L611.2 853.4L612.0 853.5L612.8 854.3L613.6 855.7L614.4 857.6L615.2 859.4L616.0 861.2L616.8 863.0L617.6 864.6L618.4 866.1L619.2 867.2L620.0 868.5L620.8 870.0L621.6 871.2L622.4 871.8L623.2 872.0L624.0 871.9L624.8 871.7L625.6 871.4L626.4 871.4L627.2 871.9L628.0 872.3L628.8 872.1L629.6 871.7L630.4 871.8L631.2 872.6L632.0 873.6L632.8 874.6L633.6 874.8L634.4 874.6L635.2 874.1L636.0 874.1L636.8 874.1L637.6 873.9L638.4 873.6L639.2 873.6L640.0 873.5L640.8 873.5L641.6 873.3L642.4 873.5L643.2 873.7L644.0 873.6L644.8 873.5L645.6 873.5L646.4 873.7L647.2 873.7L648.0 873.2L648.8 872.9L649.6 873.0L650.4 873.6L651.2 874.5L652.0 875.0L652.8 875.0L653.6 874.2L654.4 873.1L655.2 872.9L656.0 873.0L656.8 874.0L657.6 874.3L658.4 874.3L659.2 873.7L660.0 873.2L660.8 873.0L661.6 873.0L662.4 873.0L663.2 873.4L664.0 873.5L664.8 874.0L665.6 873.7L666.4 873.6L667.2 873.0L668.0 873.1L668.8 873.3L669.6 873.5L670.4 873.5L671.2 873.4L672.0 873.2L672.8 873.4L673.6 873.5L674.4 873.6L675.2 873.4L676.0 872.9L676.8 872.5L677.6 872.1L678.4 872.1L679.2 872.2L680.0 872.6L680.8 872.8L681.6 872.8L682.4 872.8L683.2 873.3L684.0 873.4L684.8 873.1L685.6 872.8L686.4 873.3L687.2 874.4L688.0 874.5L688.8 874.1L689.6 873.4L690.4 873.7L691.2 873.7L692.0 873.9L692.8 873.2L693.6 873.1L694.4 872.7L695.2 872.9L696.0 872.6L696.8 872.4L697.6 872.0L698.4 871.9L699.2 871.6L700.0 871.2L700.8 870.7L701.6 870.7L702.4 871.3L703.2 871.7L704.0 871.6L704.8 870.4L705.6 869.2L706.4 867.8L707.2 867.3L708.0 867.1L708.8 867.0L709.6 866.6L710.4 865.9L711.2 864.3L712.0 861.8L712.8 857.8L713.6 852.6L714.4 845.7L715.2 837.0L716.0 825.3L716.8 811.4L717.6 796.8L718.4 783.8L719.2 774.4L720.0 770.5L720.8 774.3L721.6 784.8L722.4 799.0L723.2 813.0L724.0 825.5L724.8 835.9L725.6 844.7L726.4 851.8L727.2 857.8L728.0 861.8L728.8 864.1L729.6 864.9L730.4 865.5L731.2 866.5L732.0 868.1L732.8 869.4L733.6 870.0L734.4 869.6L735.2 869.3L736.0 869.4L736.8 870.6L737.6 871.0L738.4 871.3L739.2 870.3L740.0 870.3L740.8 870.7L741.6 871.7L742.4 872.2L743.2 872.1L744.0 871.9L744.8 871.3L745.6 871.2L746.4 871.1L747.2 871.5L748.0 872.5L748.8 873.5L749.6 874.0L750.4 873.3L751.2 873.0L752.0 873.1L752.8 873.4L753.6 873.5L754.4 873.0L755.2 873.1L756.0 872.9L756.8 873.3L757.6 873.2L758.4 872.7L759.2 871.9L760.0 871.5L760.8 871.8L761.6 872.7L762.4 872.9L763.2 873.0L764.0 872.9L764.8 872.9L765.6 872.7L766.4 872.7L767.2 873.0L768.0 873.6L768.8 873.6L769.6 873.6L770.4 873.3L771.2 873.2L772.0 872.5L772.8 872.1L773.6 871.9L774.4 871.8L775.2 871.9L776.0 872.0L776.8 872.2L777.6 871.6L778.4 871.3L779.2 870.8L780.0 870.9L780.8 870.8L781.6 871.5L782.4 871.7L783.2 871.5L784.0 870.5L784.8 869.6L785.6 869.4L786.4 869.2L787.2 868.8L788.0 867.4L788.8 865.9L789.6 864.5L790.4 864.0L791.2 863.5L792.0 863.1L792.8 862.3L793.6 861.2L794.4 859.5L795.2 857.5L796.0 855.8L796.8 854.9L797.6 854.7L798.4 854.8L799.2 855.5L800.0 856.2L800.8 856.7L801.6 857.0L802.4 857.3L803.2 858.0L804.0 858.8L804.8 860.2L805.6 861.1L806.4 862.4L807.2 863.2L808.0 865.0L808.8 866.3L809.6 867.4L810.4 868.3L811.2 869.4L812.0 870.5L812.8 871.3L813.6 871.5L814.4 871.6L815.2 871.4L816.0 871.5L816.8 871.4L817.6 871.3L818.4 871.6L819.2 871.8L820.0 871.8L820.8 871.2L821.6 870.8L822.4 871.1L823.2 872.0L824.0 872.6L824.8 872.9L825.6 872.7L826.4 872.7L827.2 872.7L828.0 873.0L828.8 872.8L829.6 872.6L830.4 872.3L831.2 872.5L832.0 872.9L832.8 873.2L833.6 873.4L834.4 873.3L835.2 873.9L836.0 873.8L836.8 873.9L837.6 873.1L838.4 873.2L839.2 873.3L840.0 873.5L840.8 873.3L841.6 873.1L842.4 873.3L843.2 873.2L844.0 873.3L844.8 872.9L845.6 872.6L846.4 872.2L847.2 872.3L848.0 872.7L848.8 873.4L849.6 873.8L850.4 873.8L851.2 873.8L852.0 873.5L852.8 873.4L853.6 872.7L854.4 872.1L855.2 871.6L856.0 872.0L856.8 872.2L857.6 872.2L858.4 871.8L859.2 871.7L860.0 871.8L860.8 872.0L861.6 872.2L862.4 872.5L863.2 872.7L864.0 872.9L864.8 872.8L865.6 872.8L866.4 872.6L867.2 872.8L868.0 872.9L868.8 872.7L869.6 872.3L870.4 871.8L871.2 871.6L872.0 871.5L872.8 871.6L873.6 871.2L874.4 871.0L875.2 870.8L876.0 871.4L876.8 871.5L877.6 871.9L878.4 870.8L879.2 870.3L880.0 869.4L880.8 869.8L881.6 870.2L882.4 870.6L883.2 870.8L884.0 871.1L884.8 871.2L885.6 870.7L886.4 869.3L887.2 868.1L888.0 867.3L888.8 867.6L889.6 868.0L890.4 867.7L891.2 867.1L892.0 866.4L892.8 866.3L893.6 865.9L894.4 865.7L895.2 865.3L896.0 864.3L896.8 862.6L897.6 860.5L898.4 858.9L899.2 856.8L900.0 854.3L900.8 851.5L901.6 848.8L902.4 845.5L903.2 841.3L904.0 835.8L904.8 829.2L905.6 820.8L906.4 810.4L907.2 797.5L908.0 782.4L908.8 766.2L909.6 751.3L910.4 739.3L911.2 733.1L912.0 734.0L912.8 743.4L913.6 757.8L914.4 774.6L915.2 790.4L916.0 804.3L916.8 815.9L917.6 825.5L918.4 833.5L919.2 839.8L920.0 844.9L920.8 848.5L921.6 851.9L922.4 854.3L923.2 856.5L924.0 857.8L924.8 859.4L925.6 860.7L926.4 861.9L927.2 862.6L928.0 863.3L928.8 863.9L929.6 864.8L930.4 865.4L931.2 866.5L932.0 867.5L932.8 868.7L933.6 869.3L934.4 869.5L935.2 869.3L936.0 868.6L936.8 868.3L937.6 868.1L938.4 868.3L939.2 868.6L940.0 869.1L940.8 870.2L941.6 871.4L942.4 871.9L943.2 871.6L944.0 871.0L944.8 870.6L945.6 870.5L946.4 870.7L947.2 871.0L948.0 871.5L948.8 871.6L949.6 871.5L950.4 871.6L951.2 872.1L952.0 872.6L952.8 872.5L953.6 872.1L954.4 872.3L955.2 873.0L956.0 873.2L956.8 872.3L957.6 871.4L958.4 871.1L959.2 871.6L960.0 872.1L960.8 872.3L961.6 872.2L962.4 871.7L963.2 871.7L964.0 872.0L964.8 873.2L965.6 873.5L966.4 873.7L967.2 873.1L968.0 873.3L968.8 873.3L969.6 873.3L970.4 872.9L971.2 872.3L972.0 871.7L972.8 871.3L973.6 871.3L974.4 871.5L975.2 871.9L976.0 872.4L976.8 872.6L977.6 872.2L978.4 871.7L979.2 871.9L980.0 872.7L980.8 873.4L981.6 873.0L982.4 872.4L983.2 872.0L984.0 872.3L984.8 872.5L985.6 872.3L986.4 872.2L987.2 872.4L988.0 873.0L988.8 873.4L989.6 873.2L990.4 872.8L991.2 872.1L992.0 871.5L992.8 871.3L993.6 871.5L994.4 871.9L995.2 872.4L996.0 873.0L996.8 873.3L997.6 873.2L998.4 872.7L999.2 871.8L1000.0 871.3L1000.8 871.0L1001.6 871.4L1002.4 871.4L1003.2 871.4L1004.0 871.2L1004.8 870.6L1005.6 870.1L1006.4 869.8L1007.2 869.9L1008.0 870.0L1008.8 870.0L1009.6 870.0L1010.4 869.5L1011.2 869.2L1012.0 868.8L1012.8 868.3L1013.6 867.4L1014.4 866.2L1015.2 865.0L1016.0 863.4L1016.8 861.7L1017.6 859.9L1018.4 858.8L1019.2 856.9L1020.0 853.8L1020.8 848.5L1021.6 841.4L1022.4 831.8L1023.2 820.0L1024.0 805.7L1024.8 789.5L1025.6 772.6L1026.4 756.4L1027.2 744.3L1028.0 739.3L1028.8 743.7L1029.6 755.5L1030.4 772.1L1031.2 789.1L1032.0 805.3L1032.8 819.2L1033.6 831.2L1034.4 840.2L1035.2 846.8L1036.0 851.6L1036.8 855.4L1037.6 858.3L1038.4 860.3L1039.2 861.8L1040.0 863.0L1040.8 863.7L1041.6 864.1L1042.4 864.2L1043.2 864.1L1044.0 863.7L1044.8 863.4L1045.6 862.5L1046.4 861.6L1047.2 860.1L1048.0 858.9L1048.8 857.2L1049.6 855.1L1050.4 852.7L1051.2 850.0L1052.0 847.4L1052.8 844.6L1053.6 842.4L1054.4 840.4L1055.2 839.4L1056.0 838.3L1056.8 838.5L1057.6 839.4L1058.4 841.5L1059.2 844.1L1060.0 846.5L1060.8 849.2L1061.6 851.4L1062.4 853.8L1063.2 856.4L1064.0 859.0L1064.8 861.2L1065.6 862.3L1066.4 862.9L1067.2 864.1L1068.0 865.6L1068.8 867.1L1069.6 867.9L1070.4 868.5L1071.2 869.2L1072.0 869.4L1072.8 869.9L1073.6 870.4L1074.4 871.2L1075.2 871.0L1076.0 870.0L1076.8 869.3L1077.6 869.6L1078.4 870.8L1079.2 871.3L1080.0 871.4L1080.8 870.8L1081.6 871.0L1082.4 871.4L1083.2 871.8L1084.0 871.7L1084.8 871.5L1085.6 871.7L1086.4 872.0L1087.2 872.1L1088.0 871.8L1088.8 871.2L1089.6 870.8L1090.4 870.8L1091.2 871.7L1092.0 872.3L1092.8 872.1L1093.6 871.5L1094.4 871.2L1095.2 871.6L1096.0 871.7L1096.8 871.7L1097.6 871.5L1098.4 871.7L1099.2 872.0L1100.0 872.5L1100.8 872.5L1101.6 872.7L1102.4 872.3L1103.2 872.1L1104.0 871.8L1104.8 871.5L1105.6 870.6L1106.4 869.6L1107.2 868.4L1108.0 867.2L1108.8 865.8L1109.6 864.8L1110.4 864.2L1111.2 864.0L1112.0 864.1L1112.8 864.9L1113.6 866.1L1114.4 867.1L1115.2 867.2L1116.0 867.3L1116.8 867.7L1117.6 868.4L1118.4 868.9L1119.2 869.2L1120.0 869.5L1120.8 869.5L1121.6 869.1L1122.4 868.5L1123.2 867.8L1124.0 867.1L1124.8 866.5L1125.6 866.1L1126.4 865.8L1127.2 865.2L1128.0 864.4L1128.8 863.1L1129.6 861.4L1130.4 859.0L1131.2 856.1L1132.0 852.1L1132.8 846.6L1133.6 838.6L1134.4 828.2L1135.2 814.6L1136.0 797.9L1136.8 778.8L1137.6 759.9L1138.4 744.2L1139.2 735.9L1140.0 737.1L1140.8 747.9L1141.6 764.8L1142.4 783.8L1143.2 801.9L1144.0 817.3L1144.8 830.0L1145.6 839.6L1146.4 846.8L1147.2 852.0L1148.0 855.5L1148.8 858.5L1149.6 860.6L1150.4 862.6L1151.2 863.0L1152.0 863.1L1152.8 862.6L1153.6 862.6L1154.4 862.7L1155.2 862.8L1156.0 862.7L1156.8 862.7L1157.6 862.6L1158.4 861.6L1159.2 859.4L1160.0 855.9L1160.8 851.1L1161.6 844.5L1162.4 836.0L1163.2 826.5L1164.0 816.2L1164.8 805.8L1165.6 796.0L1166.4 789.3L1167.2 787.8L1168.0 792.0L1168.8 800.5L1169.6 810.8L1170.4 821.1L1171.2 830.6L1172.0 839.2L1172.8 846.9L1173.6 852.9L1174.4 857.7L1175.2 860.7L1176.0 862.8L1176.8 863.8L1177.6 864.3L1178.4 865.2L1179.2 866.4L1180.0 867.9L1180.8 868.9L1181.6 868.8L1182.4 868.5L1183.2 868.1L1184.0 868.6L1184.8 869.3L1185.6 870.3L1186.4 870.9L1187.2 871.4L1188.0 871.0L1188.8 870.7L1189.6 870.3L1190.4 870.4L1191.2 870.4L1192.0 870.3L1192.8 870.7L1193.6 871.1L1194.4 871.8L1195.2 872.1L1196.0 872.3L1196.8 872.3L1197.6 871.8L1198.4 871.5L1199.2 871.2L1200.0 871.3L1200.8 871.3L1201.6 871.5L1202.4 871.2L1203.2 871.0L1204.0 871.1L1204.8 871.9L1205.6 872.6L1206.4 873.0L1207.2 872.8L1208.0 872.7L1208.8 872.0L1209.6 871.1L1210.4 869.7L1211.2 868.3L1212.0 867.1L1212.8 866.1L1213.6 865.0L1214.4 863.4L1215.2 861.2L1216.0 859.1L1216.8 856.7L1217.6 854.2L1218.4 852.3L1219.2 851.4L1220.0 851.9L1220.8 852.5L1221.6 854.3L1222.4 856.6L1223.2 859.9L1224.0 862.4L1224.8 865.0L1225.6 866.8L1226.4 868.5L1227.2 869.1L1228.0 870.3L1228.8 871.1L1229.6 872.0L1230.4 871.9L1231.2 872.0L1232.0 872.3L1232.8 872.7L1233.6 872.9L1234.4 872.4L1235.2 872.0L1236.0 871.5L1236.8 871.6L1237.6 871.7L1238.4 872.7L1239.2 873.5L1240.0 874.0L1240.8 873.5L1241.6 873.0L1242.4 872.7L1243.2 873.0L1244.0 873.4L1244.8 874.0L1245.6 874.0L1246.4 873.8L1247.2 873.2L1248.0 872.6L1248.8 872.2L1249.6 872.5L1250.4 873.6L1251.2 874.4L1252.0 873.7L1252.8 872.1L1253.6 871.0L1254.4 871.3L1255.2 872.4L1256.0 873.1L1256.8 873.4L1257.6 873.1L1258.4 873.2L1259.2 872.9L1260.0 872.7L1260.8 872.3L1261.6 872.4L1262.4 872.4L1263.2 872.2L1264.0 871.7L1264.8 871.8L1265.6 872.2L1266.4 873.0L1267.2 873.5L1268.0 873.6L1268.8 873.3L1269.6 872.7L1270.4 872.3L1271.2 872.0L1272.0 872.4L1272.8 872.9L1273.6 872.8L1274.4 872.6L1275.2 872.1L1276.0 872.4L1276.8 872.5L1277.6 873.3L1278.4 873.0L1279.2 872.4L1280.0 870.9L1280.8 870.5L1281.6 870.6L1282.4 871.2L1283.2 870.8L1284.0 870.2L1284.8 869.5L1285.6 869.6L1286.4 869.9L1287.2 871.0L1288.0 871.4L1288.8 871.9L1289.6 871.4L1290.4 871.1L1291.2 870.6L1292.0 870.1L1292.8 869.8L1293.6 869.7L1294.4 870.5L1295.2 871.1L1296.0 871.5L1296.8 871.5L1297.6 871.5L1298.4 872.2L1299.2 872.7L1300.0 873.3L1300.8 873.1L1301.6 872.9L1302.4 873.0L1303.2 873.3L1304.0 874.0L1304.8 874.2L1305.6 874.4L1306.4 873.7L1307.2 873.1L1308.0 872.4L1308.8 872.3L1309.6 872.4L1310.4 872.4L1311.2 872.0L1312.0 871.6L1312.8 871.5L1313.6 871.7L1314.4 871.6L1315.2 871.6L1316.0 871.3L1316.8 871.2L1317.6 870.3L1318.4 868.7L1319.2 866.8L1320.0 864.8L1320.8 863.2L1321.6 862.0L1322.4 861.5L1323.2 861.2L1324.0 861.1L1324.8 860.9L1325.6 861.2L1326.4 861.5L1327.2 862.2L1328.0 863.7L1328.8 865.8L1329.6 867.5L1330.4 868.3L1331.2 868.8L1332.0 869.5L1332.8 871.0L1333.6 871.9L1334.4 872.2L1335.2 872.0L1336.0 872.1L1336.8 872.9L1337.6 873.5L1338.4 873.7L1339.2 873.0L1340.0 872.6L1340.8 872.5L1341.6 872.7L1342.4 872.9L1343.2 872.9L1344.0 872.7L1344.8 872.4L1345.6 872.5L1346.4 872.8L1347.2 873.1L1348.0 872.9L1348.8 872.6L1349.6 872.6L1350.4 872.7L1351.2 873.0L1352.0 873.1L1352.8 873.4L1353.6 873.4L1354.4 873.3L1355.2 872.8L1356.0 872.6L1356.8 872.5L1357.6 872.8L1358.4 873.0L1359.2 873.1L1360.0 872.6L1360.8 872.0L1361.6 871.6L1362.4 871.6L1363.2 871.6L1364.0 871.6L1364.8 872.0L1365.6 872.4L1366.4 873.0L1367.2 873.0L1368.0 873.2L1368.8 872.9L1369.6 872.6L1370.4 871.7L1371.2 870.9L1372.0 870.4L1372.8 870.2L1373.6 870.5L1374.4 871.1L1375.2 871.8L1376.0 872.1L1376.8 871.6L1377.6 870.6L1378.4 869.6L1379.2 869.2L1380.0 869.9L1380.8 871.3L1381.6 872.6L1382.4 873.2L1383.2 873.1L1384.0 873.0L1384.8 872.8L1385.6 872.7L1386.4 872.8L1387.2 872.6L1388.0 872.1L1388.8 871.0L1389.6 870.5L1390.4 871.0L1391.2 871.6L1392.0 871.6L1392.8 870.4L1393.6 869.4L1394.4 867.9L1395.2 866.4L1396.0 864.4L1396.8 862.5L1397.6 860.6L1398.4 859.0L1399.2 858.4L1400.0 858.6L1400.8 859.7L1401.6 860.9L1402.4 862.9L1403.2 864.6L1404.0 867.0L1404.8 868.8L1405.6 870.8L1406.4 871.5L1407.2 872.1L1408.0 871.8L1408.8 871.8L1409.6 871.5L1410.4 871.5L1411.2 871.5L1412.0 872.0L1412.8 872.7L1413.6 873.2L1414.4 873.4L1415.2 873.0L1416.0 872.8L1416.8 872.6L1417.6 872.9L1418.4 873.0L1419.2 873.0L1420.0 872.8L1420.8 872.6L1421.6 872.7L1422.4 872.6L1423.2 872.7L1424.0 872.7L1424.8 873.3L1425.6 873.2L1426.4 873.1L1427.2 872.4L1428.0 872.4L1428.8 872.7L1429.6 873.5L1430.4 873.9L1431.2 873.6L1432.0 872.7L1432.8 871.7L1433.6 871.7L1434.4 872.0L1435.2 872.3L1436.0 872.2L1436.8 872.3L1437.6 872.4L1438.4 873.0L1439.2 873.5L1440.0 874.4L1440.8 874.5L1441.6 874.4L1442.4 873.7L1443.2 873.2L1444.0 872.9L1444.8 872.4L1445.6 872.2L1446.4 871.7L1447.2 872.3L1448.0 872.8L1448.8 873.4L1449.6 873.0L1450.4 872.6L1451.2 872.2L1452.0 872.2L1452.8 872.6L1453.6 873.0L1454.4 873.7L1455.2 874.0L1456.0 874.3L1456.8 874.3L1457.6 874.1L1458.4 874.0L1459.2 873.9L1460.0 874.0L1460.8 873.9L1461.6 873.5L1462.4 873.0L1463.2 872.5L1464.0 872.3L1464.8 872.6L1465.6 873.0L1466.4 873.1L1467.2 872.5L1468.0 872.1L1468.8 872.1L1469.6 872.6L1470.4 873.1L1471.2 872.7L1472.0 872.2L1472.8 871.6L1473.6 872.0L1474.4 872.0L1475.2 872.0L1476.0 871.8L1476.8 872.5L1477.6 872.9L1478.4 873.3L1479.2 872.6L1480.0 872.3L1480.8 871.6L1481.6 871.6L1482.4 871.6L1483.2 872.2L1484.0 872.1L1484.8 871.8L1485.6 871.4L1486.4 871.2L1487.2 870.9L1488.0 870.5L1488.8 870.1L1489.6 869.7L1490.4 869.2L1491.2 868.7L1492.0 868.1L1492.8 867.5L1493.6 867.0L1494.4 867.0L1495.2 867.3L1496.0 866.8L1496.8 865.6L1497.6 864.3L1498.4 864.7L1499.2 866.0L1500.0 867.2L1500.8 867.1L1501.6 866.3L1502.4 865.9L1503.2 866.1L1504.0 866.4L1504.8 866.4L1505.6 866.3L1506.4 866.1L1507.2 865.8L1508.0 865.3L1508.8 865.6L1509.6 866.1L1510.4 866.3L1511.2 866.0L1512.0 866.0L1512.8 866.1L1513.6 865.9L1514.4 865.6L1515.2 865.7L1516.0 865.9L1516.8 866.4L1517.6 866.6L1518.4 866.9L1519.2 866.4L1520.0 865.6L1520.8 864.9L1521.6 864.9L1522.4 866.3L1523.2 867.8L1524.0 869.2L1524.8 869.5L1525.6 869.7L1526.4 869.6L1527.2 869.9L1528.0 870.2L1528.8 871.1L1529.6 871.7L1530.4 872.1L1531.2 871.7L1532.0 871.1L1532.8 870.8L1533.6 871.0L1534.4 871.5L1535.2 871.7L1536.0 872.0L1536.8 872.5L1537.6 873.2L1538.4 873.3L1539.2 872.7L1540.0 871.8L1540.8 871.4L1541.6 871.3L1542.4 871.4L1543.2 871.8L1544.0 872.5L1544.8 872.7L1545.6 872.8L1546.4 872.8L1547.2 873.3L1548.0 873.7L1548.8 873.9L1549.6 873.9L1550.4 874.0L1551.2 873.7L1552.0 873.1L1552.8 872.7L1553.6 872.5L1554.4 872.6L1555.2 872.4L1556.0 872.2L1556.8 872.2L1557.6 872.4L1558.4 872.4L1559.2 872.2L1560.0 872.3L1560.8 872.8L1561.6 873.0L1562.4 872.8L1563.2 872.0L1564.0 871.4L1564.8 871.0L1565.6 870.2L1566.4 869.1L1567.2 867.4L1568.0 866.4L1568.8 865.5L1569.6 864.3L1570.4 862.1"/>
<path class="c" stroke="#ff0000" d="M160.5 967.0L161.3 967.0L162.1 967.1L162.9 967.3L163.7 968.0L164.5 968.7L165.3 969.3L166.1 968.6L166.9 967.7L167.7 966.7L168.5 966.9L169.3 966.9L170.1 967.0L170.9 966.5L171.7 966.7L172.5 967.2L173.3 967.5L174.1 967.3L174.9 966.9L175.7 966.3L176.5 965.8L177.3 965.5L178.1 965.6L178.9 965.7L179.7 964.6L180.5 963.4L181.3 961.5L182.1 959.9L182.9 956.9L183.7 953.6L184.5 949.5L185.3 945.2L186.1 940.5L186.9 936.0L187.7 931.6L188.5 927.8L189.3 925.2L190.1 925.0L190.9 927.0L191.7 930.8L192.5 935.3L193.3 940.6L194.1 945.9L194.9 951.0L195.7 955.1L196.5 958.0L197.3 960.4L198.1 962.0L198.9 963.4L199.7 964.1L200.5 964.4L201.3 964.9L202.1 965.5L202.9 966.2L203.7 965.6L204.5 964.9L205.3 964.5L206.1 965.0L206.9 966.0L207.7 967.1L208.5 967.8L209.3 967.9L210.1 967.6L210.9 967.4L211.7 967.4L212.5 967.0L213.3 966.1L214.1 965.7L214.9 966.0L215.7 966.8L216.5 967.6L217.3 967.4L218.1 966.6L218.9 965.4L219.7 964.7L220.5 964.8L221.3 964.9L222.1 964.8L222.9 964.5L223.7 965.0L224.5 965.8L225.3 966.6L226.1 966.8L226.9 966.9L227.7 967.2L228.5 967.4L229.3 967.7L230.1 967.0L230.9 966.9L231.7 966.9L232.5 968.0L233.3 968.4L234.1 968.5L234.9 967.5L235.7 966.9L236.5 966.7L237.3 966.8L238.1 967.1L238.9 966.6L239.7 967.1L240.5 966.7L241.3 967.0L242.1 966.6L242.9 966.9L243.7 967.5L244.5 967.8L245.3 968.2L246.1 967.5L246.9 966.9L247.7 965.7L248.5 965.3L249.3 965.3L250.1 965.5L250.9 964.8L251.7 963.1L252.5 960.7L253.3 959.0L254.1 957.9L254.9 957.2L255.7 956.1L256.5 955.6L257.3 955.9L258.1 956.8L258.9 958.1L259.7 959.2L260.5 960.5L261.3 961.7L262.1 963.1L262.9 964.2L263.7 965.4L264.5 965.7L265.3 966.4L266.1 966.6L266.9 967.2L267.7 967.2L268.5 967.1L269.3 967.1L270.1 967.3L270.9 967.3L271.7 967.1L272.5 966.9L273.3 967.6L274.1 968.3L274.9 968.1L275.7 967.3L276.5 966.7L277.3 967.4L278.1 967.9L278.9 968.1L279.7 967.2L280.5 966.7L281.3 966.1L282.1 965.9L282.9 965.6L283.7 965.9L284.5 966.6L285.3 967.3L286.1 967.7L286.9 967.5L287.7 967.4L288.5 967.7L289.3 967.9L290.1 968.1L290.9 967.6L291.7 967.0L292.5 966.7L293.3 966.9L294.1 967.0L294.9 967.2L295.7 967.0L296.5 967.0L297.3 966.7L298.1 966.4L298.9 966.2L299.7 966.1L300.5 966.0L301.3 965.7L302.1 965.6L302.9 965.9L303.7 966.8L304.5 967.0L305.3 967.3L306.1 967.3L306.9 967.4L307.7 966.9L308.5 966.3L309.3 966.3L310.1 966.5L310.9 967.4L311.7 967.7L312.5 968.2L313.3 968.1L314.1 968.6L314.9 969.1L315.7 969.5L316.5 968.8L317.3 968.5L318.1 967.6L318.9 967.0L319.7 966.4L320.5 966.6L321.3 967.2L322.1 967.7L322.9 968.1L323.7 968.7L324.5 968.6L325.3 967.9L326.1 967.2L326.9 966.8L327.7 966.4L328.5 965.3L329.3 965.0L330.1 965.6L330.9 966.9L331.7 967.3L332.5 967.4L333.3 967.3L334.1 968.1L334.9 969.0L335.7 969.8L336.5 968.9L337.3 968.1L338.1 966.9L338.9 966.8L339.7 965.8L340.5 964.8L341.3 963.2L342.1 961.8L342.9 960.2L343.7 959.1L344.5 958.1L345.3 957.5L346.1 956.0L346.9 953.9L347.7 951.4L348.5 949.5L349.3 949.0L350.1 949.5L350.9 951.3L351.7 953.5L352.5 955.9L353.3 958.0L354.1 959.7L354.9 961.3L355.7 963.3L356.5 965.4L357.3 966.6L358.1 966.6L358.9 966.2L359.7 966.3L360.5 966.9L361.3 967.6L362.1 967.8L362.9 967.5L363.7 966.4L364.5 965.6L365.3 965.4L366.1 965.9L366.9 966.0L367.7 965.6L368.5 965.2L369.3 965.5L370.1 965.9L370.9 966.9L371.7 967.1L372.5 967.2L373.3 966.1L374.1 966.0L374.9 966.1L375.7 966.8L376.5 965.9L377.3 965.0L378.1 963.6L378.9 963.7L379.7 963.8L380.5 964.5L381.3 965.0L382.1 964.9L382.9 964.5L383.7 963.8L384.5 963.7L385.3 963.7L386.1 963.7L386.9 962.9L387.7 961.6L388.5 960.3L389.3 959.5L390.1 959.5L390.9 959.6L391.7 959.5L392.5 958.5L393.3 956.8L394.1 954.2L394.9 951.3L395.7 946.9L396.5 940.8L397.3 932.7L398.1 923.4L398.9 911.8L399.7 897.1L400.5 879.6L401.3 860.9L402.1 843.6L402.9 830.2L403.7 824.4L404.5 828.0L405.3 839.9L406.1 856.4L406.9 874.6L407.7 892.4L408.5 908.6L409.3 921.4L410.1 931.3L410.9 938.2L411.7 944.0L412.5 947.9L413.3 950.8L414.1 953.0L414.9 955.5L415.7 957.5L416.5 958.4L417.3 958.1L418.1 958.0L418.9 958.2L419.7 958.9L420.5 959.5L421.3 960.5L422.1 961.4L422.9 961.6L423.7 961.0L424.5 960.2L425.3 960.1L426.1 960.7L426.9 960.9L427.7 961.4L428.5 961.0L429.3 960.6L430.1 959.3L430.9 958.7L431.7 958.5L432.5 958.6L433.3 958.1L434.1 957.0L434.9 956.1L435.7 955.1L436.5 954.6L437.3 953.7L438.1 952.5L438.9 949.7L439.7 945.9L440.5 941.1L441.3 935.8L442.1 928.3L442.9 918.3L443.7 904.5L444.5 887.4L445.3 867.2L446.1 844.6L446.9 821.1L447.7 799.4L448.5 785.3L449.3 782.6L450.1 793.1L450.9 812.2L451.7 836.0L452.5 859.3L453.3 880.1L454.1 897.4L454.9 911.4L455.7 922.4L456.5 930.9L457.3 936.7L458.1 941.4L458.9 944.4L459.7 947.1L460.5 948.3L461.3 948.8L462.1 947.8L462.9 946.0L463.7 944.0L464.5 941.8L465.3 939.7L466.1 935.6L466.9 930.7L467.7 923.4L468.5 913.8L469.3 900.1L470.1 881.9L470.9 860.3L471.7 837.2L472.5 816.7L473.3 803.6L474.1 803.0L474.9 814.2L475.7 833.5L476.0 841.9L476.2 849.7L476.5 856.6L476.8 862.7L477.0 867.8L477.2 872.9L477.5 877.9L477.8 883.1L478.0 888.3L478.2 892.8L478.5 897.1L478.8 901.0L479.0 904.6L479.2 908.0L479.5 910.5L479.8 913.2L480.0 914.4L480.2 916.2L480.5 917.3L480.8 919.2L481.0 920.1L481.2 920.7L481.5 920.6L481.8 920.6L482.0 920.6L482.2 920.0L482.5 919.1L482.8 918.0L483.0 917.5L483.2 917.5L483.5 917.2L483.8 916.1L484.0 914.2L484.2 911.9L484.5 909.8L484.8 907.6L485.0 905.1L485.2 895.6L485.5 880.2L485.8 864.5L486.0 850.3L486.2 837.5L486.5 824.3L486.8 811.4L487.0 798.0L487.2 784.2L487.5 770.0L487.8 756.2L488.0 743.7L488.2 731.7L488.5 719.5L488.8 705.8L489.0 691.0L489.2 675.4L489.5 659.9L489.8 645.3L490.0 631.1L490.2 616.8L490.5 602.1L490.8 586.6L491.0 570.8L491.2 554.5L491.5 539.0L491.8 526.0L492.0 517.3L492.2 504.7L492.5 481.7L492.8 355.5L493.0 354.1L493.2 353.3L493.5 353.2L493.8 353.1L494.0 353.4L494.2 354.1L494.5 355.2L494.8 355.6L495.0 355.6L495.2 463.8L495.5 500.5L495.8 514.9L496.0 524.3L496.2 536.6L496.5 552.4L496.8 568.3L497.0 584.6L497.2 600.4L497.5 616.1L497.8 630.9L498.0 646.1L498.2 660.7L498.5 675.4L498.8 689.3L499.0 703.6L499.2 717.2L499.5 731.5L499.8 745.5L500.0 760.4L500.2 774.0L500.5 787.4L500.8 800.1L501.0 813.4L501.2 827.0L501.5 840.7L501.8 854.4L502.0 868.4L502.2 883.8L502.5 898.9L502.8 910.7L503.0 914.3L503.2 917.1L503.5 919.3L503.8 920.5L504.0 921.7L504.2 923.1L504.5 925.1L504.8 926.8L505.0 928.5L505.2 929.7L505.5 931.5L505.8 933.3L506.0 935.0L506.2 936.2L506.5 937.7L506.8 939.2L507.0 940.4L507.2 940.4L507.5 940.0L507.8 939.9L508.0 941.2L508.2 943.5L508.5 946.0L508.8 947.2L509.0 947.4L509.2 946.8L509.5 946.7L509.8 946.5L510.0 947.1L510.2 947.9L510.5 949.9L510.8 951.5L511.0 952.5L511.2 951.9L511.5 951.1L511.8 950.7L512.0 951.8L512.8 954.2L513.6 956.0L514.4 957.2L515.2 957.6L516.0 958.1L516.8 958.7L517.6 959.3L518.4 960.1L519.2 959.9L520.0 960.3L520.8 960.4L521.6 961.2L522.4 961.0L523.2 961.2L524.0 961.2L524.8 961.3L525.6 960.9L526.4 960.8L527.2 961.5L528.0 962.2L528.8 962.8L529.6 962.8L530.4 963.0L531.2 963.7L532.0 964.3L532.8 964.3L533.6 963.6L534.4 963.0L535.2 963.3L536.0 963.9L536.8 964.4L537.6 964.9L538.4 965.0L539.2 965.6L540.0 965.3L540.8 964.8L541.6 963.4L542.4 963.4L543.2 964.3L544.0 965.9L544.8 966.1L545.6 965.7L546.4 965.2L547.2 965.3L548.0 966.0L548.8 966.8L549.6 967.6L550.4 967.6L551.2 967.3L552.0 966.6L552.8 966.3L553.6 965.8L554.4 966.1L555.2 966.1L556.0 966.6L556.8 966.9L557.6 967.6L558.4 967.5L559.2 967.0L560.0 966.3L560.8 965.9L561.6 965.9L562.4 965.8L563.2 965.7L564.0 965.8L564.8 965.9L565.6 966.2L566.4 965.9L567.2 965.5L568.0 965.1L568.8 965.3L569.6 966.2L570.4 966.9L571.2 967.0L572.0 966.7L572.8 966.5L573.6 965.9L574.4 965.7L575.2 965.4L576.0 965.7L576.8 966.2L577.6 966.4L578.4 967.0L579.2 966.9L580.0 967.2L580.8 966.8L581.6 967.4L582.4 967.6L583.2 968.3L584.0 968.0L584.8 967.8L585.6 967.0L586.4 966.6L587.2 966.3L588.0 966.5L588.8 966.8L589.6 966.6L590.4 966.1L591.2 965.0L592.0 964.0L592.8 962.2L593.6 960.6L594.4 958.5L595.2 956.8L596.0 954.6L596.8 952.2L597.6 950.0L598.4 948.3L599.2 946.7L600.0 945.3L600.8 944.4L601.6 944.5L602.4 945.9L603.2 947.7L604.0 950.0L604.8 952.2L605.6 955.3L606.4 958.3L607.2 960.7L608.0 962.1L608.8 963.1L609.6 963.9L610.4 964.4L611.2 964.8L612.0 965.5L612.8 965.4L613.6 964.8L614.4 963.9L615.2 964.4L616.0 965.4L616.8 966.0L617.6 965.7L618.4 965.9L619.2 966.4L620.0 967.0L620.8 966.8L621.6 966.6L622.4 966.9L623.2 967.7L624.0 967.5L624.8 967.2L625.6 966.5L626.4 967.2L627.2 967.9L628.0 968.9L628.8 969.1L629.6 969.1L630.4 968.6L631.2 968.2L632.0 967.7L632.8 966.9L633.6 965.9L634.4 965.2L635.2 965.7L636.0 966.6L636.8 967.7L637.6 967.8L638.4 968.3L639.2 968.3L640.0 969.2L640.8 969.2L641.6 969.6L642.4 968.7L643.2 967.6L644.0 966.6L644.8 966.1L645.6 966.7L646.4 966.9L647.2 966.7L648.0 965.4L648.8 964.0L649.6 963.6L650.4 964.6L651.2 965.6L652.0 966.7L652.8 966.8L653.6 967.5L654.4 967.8L655.2 968.4L656.0 967.8L656.8 967.4L657.6 966.9L658.4 967.3L659.2 967.7L660.0 967.6L660.8 967.3L661.6 966.8L662.4 966.8L663.2 967.3L664.0 967.8L664.8 968.1L665.6 967.6L666.4 966.9L667.2 966.2L668.0 966.2L668.8 966.0L669.6 966.2L670.4 966.4L671.2 967.2L672.0 967.6L672.8 967.4L673.6 966.8L674.4 965.9L675.2 966.3L676.0 966.8L676.8 967.7L677.6 968.1L678.4 967.9L679.2 967.1L680.0 966.2L680.8 966.5L681.6 967.3L682.4 968.1L683.2 968.0L684.0 967.7L684.8 967.0L685.6 966.3L686.4 966.1L687.2 966.7L688.0 967.6L688.8 968.4L689.6 968.1L690.4 967.3L691.2 965.9L692.0 965.6L692.8 966.3L693.6 967.4L694.4 967.6L695.2 966.1L696.0 965.2L696.8 964.3L697.6 965.2L698.4 965.6L699.2 966.2L700.0 965.6L700.8 964.9L701.6 964.8L702.4 965.1L703.2 965.2L704.0 964.3L704.8 963.7L705.6 963.5L706.4 963.2L707.2 962.3L708.0 961.6L708.8 960.9L709.6 959.6L710.4 957.6L711.2 955.3L712.0 952.4L712.8 948.1L713.6 941.2L714.4 932.5L715.2 922.3L716.0 911.7L716.8 900.1L717.6 889.0L718.4 880.2L719.2 876.4L720.0 878.5L720.8 885.8L721.6 896.4L722.4 908.6L723.2 920.2L724.0 930.5L724.8 938.9L725.6 945.3L726.4 950.4L727.2 953.9L728.0 957.2L728.8 958.8L729.6 960.3L730.4 960.5L731.2 961.5L732.0 962.4L732.8 963.6L733.6 963.7L734.4 963.8L735.2 963.9L736.0 964.8L736.8 965.3L737.6 965.4L738.4 965.3L739.2 965.5L740.0 966.2L740.8 966.7L741.6 966.6L742.4 966.2L743.2 965.8L744.0 966.0L744.8 965.4L745.6 964.7L746.4 963.7L747.2 964.2L748.0 965.2L748.8 966.1L749.6 966.6L750.4 966.6L751.2 966.5L752.0 966.3L752.8 966.5L753.6 966.3L754.4 965.6L755.2 964.9L756.0 965.2L756.8 965.6L757.6 965.7L758.4 965.4L759.2 965.8L760.0 966.5L760.8 967.3L761.6 967.1L762.4 966.4L763.2 965.4L764.0 965.1L764.8 965.4L765.6 966.2L766.4 965.9L767.2 965.5L768.0 964.7L768.8 964.6L769.6 964.7L770.4 964.7L771.2 964.7L772.0 964.7L772.8 964.8L773.6 964.7L774.4 964.1L775.2 964.0L776.0 962.9L776.8 961.7L777.6 959.3L778.4 957.6L779.2 955.2L780.0 952.9L780.8 949.6L781.6 946.5L782.4 943.6L783.2 941.4L784.0 940.1L784.8 939.5L785.6 939.6L786.4 941.1L787.2 942.9L788.0 945.5L788.8 947.7L789.6 950.8L790.4 953.7L791.2 956.8L792.0 959.2L792.8 961.2L793.6 962.5L794.4 963.3L795.2 963.6L796.0 964.3L796.8 965.0L797.6 966.4L798.4 966.9L799.2 967.0L800.0 966.9L800.8 967.4L801.6 967.9L802.4 967.6L803.2 966.9L804.0 966.6L804.8 966.6L805.6 966.4L806.4 965.9L807.2 965.5L808.0 965.3L808.8 965.2L809.6 965.2L810.4 965.6L811.2 966.4L812.0 967.3L812.8 967.6L813.6 967.4L814.4 967.1L815.2 967.6L816.0 967.4L816.8 966.7L817.6 964.8L818.4 964.3L819.2 965.0L820.0 966.6L820.8 967.3L821.6 967.1L822.4 967.0L823.2 967.5L824.0 967.7L824.8 968.1L825.6 967.8L826.4 968.4L827.2 968.3L828.0 968.1L828.8 967.6L829.6 967.6L830.4 967.9L831.2 967.8L832.0 967.7L832.8 967.0L833.6 966.9L834.4 966.8L835.2 967.0L836.0 967.3L836.8 967.3L837.6 967.5L838.4 967.2L839.2 967.0L840.0 966.7L840.8 967.5L841.6 968.0L842.4 968.6L843.2 967.8L844.0 967.6L844.8 967.3L845.6 967.7L846.4 968.1L847.2 968.1L848.0 967.8L848.8 967.0L849.6 966.5L850.4 966.3L851.2 966.8L852.0 967.6L852.8 967.9L853.6 967.8L854.4 967.4L855.2 968.0L856.0 968.4L856.8 968.7L857.6 968.2L858.4 967.4L859.2 967.0L860.0 966.5L860.8 966.5L861.6 966.8L862.4 967.4L863.2 968.0L864.0 968.2L864.8 967.6L865.6 966.8L866.4 965.8L867.2 966.1L868.0 966.8L868.8 967.6L869.6 968.1L870.4 967.9L871.2 967.8L872.0 967.2L872.8 966.9L873.6 966.5L874.4 966.4L875.2 966.1L876.0 966.0L876.8 965.4L877.6 965.2L878.4 964.0L879.2 962.9L880.0 961.0L880.8 960.6L881.6 960.0L882.4 960.2L883.2 959.4L884.0 958.9L884.8 958.4L885.6 958.2L886.4 958.7L887.2 959.3L888.0 960.9L888.8 962.5L889.6 963.6L890.4 963.6L891.2 962.8L892.0 962.6L892.8 962.7L893.6 963.2L894.4 962.8L895.2 961.8L896.0 960.3L896.8 959.4L897.6 959.6L898.4 960.1L899.2 959.5L900.0 957.2L900.8 953.4L901.6 948.8L902.4 944.1L903.2 939.2L904.0 933.0L904.8 924.9L905.6 915.0L906.4 902.9L907.2 888.4L908.0 872.1L908.8 856.5L909.6 843.3L910.4 835.7L911.2 834.5L912.0 841.3L912.8 851.9L913.6 865.6L914.4 879.5L915.2 894.7L916.0 908.5L916.8 921.1L917.6 931.1L918.4 938.9L919.2 944.7L920.0 948.5L920.8 951.6L921.6 953.7L922.4 956.9L923.2 959.2L924.0 960.8L924.8 960.8L925.6 960.7L926.4 961.1L927.2 961.4L928.0 962.2L928.8 963.4L929.6 964.8L930.4 965.5L931.2 965.1L932.0 964.6L932.8 964.3L933.6 964.1L934.4 964.2L935.2 964.8L936.0 965.0L936.8 965.2L937.6 964.9L938.4 965.7L939.2 966.2L940.0 966.7L940.8 966.1L941.6 965.7L942.4 965.4L943.2 965.2L944.0 965.0L944.8 964.8L945.6 964.7L946.4 964.7L947.2 964.8L948.0 964.7L948.8 965.0L949.6 965.5L950.4 966.4L951.2 966.5L952.0 966.5L952.8 966.1L953.6 966.4L954.4 966.4L955.2 966.6L956.0 966.7L956.8 966.8L957.6 966.8L958.4 966.3L959.2 966.1L960.0 966.4L960.8 966.9L961.6 967.8L962.4 968.4L963.2 968.6L964.0 968.1L964.8 967.1L965.6 966.8L966.4 966.8L967.2 967.0L968.0 966.4L968.8 966.1L969.6 965.8L970.4 965.6L971.2 965.3L972.0 965.2L972.8 966.2L973.6 967.3L974.4 968.2L975.2 968.2L976.0 967.9L976.8 967.3L977.6 966.2L978.4 964.9L979.2 964.1L980.0 964.6L980.8 966.0L981.6 966.8L982.4 966.9L983.2 966.6L984.0 966.7L984.8 966.6L985.6 966.3L986.4 965.6L987.2 965.2L988.0 965.7L988.8 967.1L989.6 968.2L990.4 968.4L991.2 967.6L992.0 966.9L992.8 966.5L993.6 966.8L994.4 966.7L995.2 966.8L996.0 966.6L996.8 966.6L997.6 966.5L998.4 966.4L999.2 966.5L1000.0 965.7L1000.8 965.6L1001.6 964.7L1002.4 964.7L1003.2 963.6L1004.0 964.0L1004.8 964.6L1005.6 966.3L1006.4 966.6L1007.2 966.2L1008.0 965.5L1008.8 965.6L1009.6 965.5L1010.4 964.9L1011.2 963.7L1012.0 962.7L1012.8 961.6L1013.6 961.0L1014.4 960.7L1015.2 960.6L1016.0 959.6L1016.8 957.6L1017.6 955.3L1018.4 953.0L1019.2 951.1L1020.0 948.3L1020.8 943.3L1021.6 935.7L1022.4 925.4L1023.2 913.5L1024.0 898.9L1024.8 882.6L1025.6 864.3L1026.4 847.6L1027.2 835.0L1028.0 830.9L1028.8 835.3L1029.6 846.7L1030.4 860.8L1031.2 875.7L1032.0 890.0L1032.8 902.8L1033.6 912.6L1034.4 918.6L1035.2 921.5L1036.0 922.8L1036.8 923.4L1037.6 924.0L1038.4 924.2L1039.2 924.2L1040.0 924.1L1040.8 924.7L1041.6 926.7L1042.4 930.2L1043.2 934.2L1044.0 938.2L1044.8 942.0L1045.6 945.2L1046.4 947.9L1047.2 950.6L1048.0 953.2L1048.8 956.1L1049.6 958.1L1050.4 959.4L1051.2 960.2L1052.0 960.3L1052.8 960.7L1053.6 961.0L1054.4 962.0L1055.2 962.7L1056.0 963.5L1056.8 963.9L1057.6 964.7L1058.4 965.2L1059.2 965.6L1060.0 965.4L1060.8 964.6L1061.6 964.0L1062.4 963.5L1063.2 964.1L1064.0 964.5L1064.8 965.3L1065.6 965.5L1066.4 966.0L1067.2 965.9L1068.0 966.0L1068.8 966.0L1069.6 966.6L1070.4 967.4L1071.2 967.7L1072.0 967.4L1072.8 967.1L1073.6 967.3L1074.4 967.8L1075.2 967.8L1076.0 967.4L1076.8 966.9L1077.6 966.4L1078.4 966.4L1079.2 966.8L1080.0 967.4L1080.8 968.0L1081.6 967.7L1082.4 967.2L1083.2 966.4L1084.0 966.4L1084.8 966.6L1085.6 967.0L1086.4 967.2L1087.2 967.5L1088.0 967.9L1088.8 968.0L1089.6 967.5L1090.4 967.3L1091.2 967.6L1092.0 968.1L1092.8 967.4L1093.6 966.6L1094.4 965.5L1095.2 966.2L1096.0 966.8L1096.8 968.1L1097.6 967.9L1098.4 967.6L1099.2 966.2L1100.0 965.1L1100.8 964.0L1101.6 963.6L1102.4 963.2L1103.2 962.8L1104.0 961.8L1104.8 961.0L1105.6 959.9L1106.4 958.5L1107.2 956.7L1108.0 954.5L1108.8 953.3L1109.6 952.9L1110.4 954.0L1111.2 955.2L1112.0 956.6L1112.8 958.0L1113.6 959.4L1114.4 960.5L1115.2 960.7L1116.0 961.2L1116.8 961.8L1117.6 962.9L1118.4 963.0L1119.2 963.1L1120.0 962.6L1120.8 962.6L1121.6 962.6L1122.4 962.8L1123.2 962.8L1124.0 962.8L1124.8 962.2L1125.6 961.6L1126.4 959.6L1127.2 958.1L1128.0 956.7L1128.8 956.1L1129.6 954.0L1130.4 950.5L1131.2 945.2L1132.0 938.3L1132.8 929.5L1133.6 918.5L1134.4 905.1L1135.2 890.5L1136.0 876.2L1136.8 864.9L1137.6 858.8L1138.4 859.1L1139.2 865.8L1140.0 876.9L1140.8 891.0L1141.6 905.6L1142.4 919.1L1143.2 930.1L1144.0 938.8L1144.8 945.2L1145.6 950.3L1146.4 953.5L1147.2 955.8L1148.0 957.4L1148.8 959.7L1149.6 961.1L1150.4 961.4L1151.2 960.5L1152.0 960.3L1152.8 960.8L1153.6 961.0L1154.4 959.6L1155.2 957.6L1156.0 956.7L1156.8 956.8L1157.6 956.0L1158.4 952.7L1159.2 948.4L1160.0 943.3L1160.8 936.9L1161.6 928.9L1162.4 919.4L1163.2 910.8L1164.0 903.6L1164.8 900.0L1165.6 899.5L1166.4 902.9L1167.2 908.7L1168.0 916.8L1168.8 925.7L1169.6 934.2L1170.4 941.4L1171.2 946.9L1172.0 951.7L1172.8 955.4L1173.6 958.4L1174.4 960.0L1175.2 960.9L1176.0 961.6L1176.8 962.3L1177.6 963.7L1178.4 964.8L1179.2 965.7L1180.0 965.8L1180.8 965.6L1181.6 965.8L1182.4 965.3L1183.2 964.8L1184.0 963.6L1184.8 964.3L1185.6 965.0L1186.4 966.1L1187.2 965.9L1188.0 965.8L1188.8 965.3L1189.6 965.2L1190.4 965.5L1191.2 966.0L1192.0 966.3L1192.8 966.3L1193.6 966.4L1194.4 966.6L1195.2 966.4L1196.0 965.9L1196.8 965.5L1197.6 966.1L1198.4 966.7L1199.2 967.5L1200.0 967.2L1200.8 967.6L1201.6 966.9L1202.4 966.7L1203.2 965.0L1204.0 964.3L1204.8 963.4L1205.6 964.1L1206.4 964.7L1207.2 965.5L1208.0 965.3L1208.8 965.4L1209.6 965.0L1210.4 965.4L1211.2 965.1L1212.0 964.7L1212.8 963.1L1213.6 960.8L1214.4 958.8L1215.2 957.0L1216.0 956.3L1216.8 954.9L1217.6 953.9L1218.4 952.6L1219.2 952.4L1220.0 953.2L1220.8 955.2L1221.6 957.4L1222.4 959.4L1223.2 961.1L1224.0 962.4L1224.8 962.9L1225.6 963.2L1226.4 963.5L1227.2 964.4L1228.0 965.7L1228.8 966.7L1229.6 967.1L1230.4 966.6L1231.2 966.6L1232.0 966.1L1232.8 966.5L1233.6 966.3L1234.4 966.9L1235.2 966.9L1236.0 966.9L1236.8 966.5L1237.6 966.3L1238.4 966.8L1239.2 967.3L1240.0 968.2L1240.8 968.5L1241.6 968.4L1242.4 967.8L1243.2 967.0L1244.0 966.6L1244.8 966.1L1245.6 966.1L1246.4 966.1L1247.2 966.5L1248.0 966.8L1248.8 967.0L1249.6 966.4L1250.4 966.5L1251.2 966.9L1252.0 968.0L1252.8 967.8L1253.6 967.8L1254.4 967.3L1255.2 967.3L1256.0 966.5L1256.8 965.8L1257.6 965.2L1258.4 964.5L1259.2 964.1L1260.0 963.9L1260.8 964.8L1261.6 965.3L1262.4 965.5L1263.2 965.0L1264.0 964.3L1264.8 963.8L1265.6 962.9L1266.4 962.5L1267.2 961.8L1268.0 961.8L1268.8 961.9L1269.6 962.2L1270.4 962.7L1271.2 963.8L1272.0 964.9L1272.8 965.3L1273.6 965.0L1274.4 964.8L1275.2 965.2L1276.0 965.8L1276.8 966.4L1277.6 966.6L1278.4 966.6L1279.2 966.3L1280.0 966.6L1280.8 966.7L1281.6 967.1L1282.4 967.2L1283.2 967.7L1284.0 967.4L1284.8 967.1L1285.6 966.5L1286.4 966.6L1287.2 966.4L1288.0 965.9L1288.8 965.2L1289.6 965.1L1290.4 965.5L1291.2 966.2L1292.0 966.8L1292.8 967.5L1293.6 967.7L1294.4 967.4L1295.2 966.8L1296.0 966.5L1296.8 967.2L1297.6 967.9L1298.4 967.7L1299.2 967.0L1300.0 966.2L1300.8 965.8L1301.6 965.5L1302.4 965.7L1303.2 966.4L1304.0 967.0L1304.8 966.9L1305.6 966.8L1306.4 966.9L1307.2 967.4L1308.0 967.1L1308.8 966.5L1309.6 966.1L1310.4 966.1L1311.2 965.8L1312.0 965.0L1312.8 964.2L1313.6 963.4L1314.4 962.6L1315.2 961.6L1316.0 960.8L1316.8 960.1L1317.6 959.6L1318.4 959.2L1319.2 958.9L1320.0 958.6L1320.8 957.5L1321.6 956.4L1322.4 955.1L1323.2 954.5L1324.0 954.5L1324.8 955.8L1325.6 957.7L1326.4 959.4L1327.2 960.3L1328.0 960.8L1328.8 961.4L1329.6 962.1L1330.4 962.7L1331.2 963.7L1332.0 964.8L1332.8 965.3L1333.6 965.1L1334.4 964.9L1335.2 965.3L1336.0 965.4L1336.8 964.7L1337.6 963.7L1338.4 963.2L1339.2 964.2L1340.0 965.2L1340.8 966.0L1341.6 965.6L1342.4 965.1L1343.2 965.0L1344.0 965.3L1344.8 965.7L1345.6 965.2L1346.4 964.6L1347.2 963.7L1348.0 963.6L1348.8 963.8L1349.6 963.9L1350.4 963.9L1351.2 963.7L1352.0 963.8L1352.8 964.5L1353.6 965.9L1354.4 967.2L1355.2 968.0L1356.0 967.7L1356.8 967.2L1357.6 966.5L1358.4 966.9L1359.2 967.3L1360.0 967.7L1360.8 966.7L1361.6 966.2L1362.4 966.2L1363.2 967.1L1364.0 967.4L1364.8 967.8L1365.6 967.3L1366.4 967.2L1367.2 966.6L1368.0 966.9L1368.8 967.0L1369.6 967.3L1370.4 967.2L1371.2 967.1L1372.0 966.8L1372.8 967.4L1373.6 968.2L1374.4 968.6L1375.2 967.6L1376.0 966.2L1376.8 965.6L1377.6 966.2L1378.4 967.5L1379.2 968.7L1380.0 968.9L1380.8 968.6L1381.6 968.2L1382.4 968.4L1383.2 968.4L1384.0 968.3L1384.8 967.9L1385.6 968.0L1386.4 968.4L1387.2 968.6L1388.0 968.2L1388.8 968.3L1389.6 968.7L1390.4 969.0L1391.2 968.8L1392.0 967.5L1392.8 965.9L1393.6 963.9L1394.4 962.7L1395.2 962.1L1396.0 961.8L1396.8 961.1L1397.6 960.5L1398.4 960.0L1399.2 959.8L1400.0 959.5L1400.8 959.4L1401.6 959.2L1402.4 959.7L1403.2 960.7L1404.0 962.1L1404.8 963.1L1405.6 964.2L1406.4 964.7L1407.2 964.8L1408.0 965.0L1408.8 965.4L1409.6 966.7L1410.4 966.9L1411.2 966.8L1412.0 965.4L1412.8 965.4L1413.6 965.8L1414.4 966.7L1415.2 966.9L1416.0 966.9L1416.8 967.1L1417.6 967.4L1418.4 968.1L1419.2 968.1L1420.0 967.7L1420.8 966.8L1421.6 966.7L1422.4 966.9L1423.2 967.2L1424.0 967.3L1424.8 967.7L1425.6 968.1L1426.4 968.3L1427.2 968.4L1428.0 968.3L1428.8 968.4L1429.6 968.4L1430.4 968.2L1431.2 967.4L1432.0 966.1L1432.8 965.7L1433.6 966.2L1434.4 967.2L1435.2 967.4L1436.0 966.7L1436.8 966.0L1437.6 966.0L1438.4 966.9L1439.2 967.7L1440.0 968.4L1440.8 968.8L1441.6 968.8L1442.4 969.0L1443.2 968.8L1444.0 968.8L1444.8 968.3L1445.6 968.4L1446.4 968.3L1447.2 968.3L1448.0 967.4L1448.8 967.0L1449.6 966.9L1450.4 967.9L1451.2 968.4L1452.0 969.0L1452.8 968.5L1453.6 967.9L1454.4 967.0L1455.2 966.7L1456.0 966.9L1456.8 967.7L1457.6 968.4L1458.4 968.7L1459.2 968.3L1460.0 968.3L1460.8 967.7L1461.6 967.7L1462.4 967.0L1463.2 967.0L1464.0 966.7L1464.8 966.9L1465.6 966.7L1466.4 967.1L1467.2 967.0L1468.0 967.4L1468.8 967.3L1469.6 968.1L1470.4 968.5L1471.2 968.7L1472.0 968.3L1472.8 967.9L1473.6 967.6L1474.4 967.3L1475.2 966.7L1476.0 966.4L1476.8 966.1L1477.6 965.5L1478.4 964.8L1479.2 964.1L1480.0 964.6L1480.8 965.1L1481.6 965.2L1482.4 964.0L1483.2 962.3L1484.0 960.7L1484.8 959.5L1485.6 959.2L1486.4 959.2L1487.2 959.9L1488.0 960.2L1488.8 960.5L1489.6 960.8L1490.4 961.4L1491.2 962.3L1492.0 963.3L1492.8 964.4L1493.6 965.1L1494.4 965.2L1495.2 965.7L1496.0 966.3L1496.8 967.6L1497.6 968.0L1498.4 967.9L1499.2 967.1L1500.0 967.0L1500.8 967.7L1501.6 968.8L1502.4 969.3L1503.2 969.0L1504.0 968.5L1504.8 968.1L1505.6 968.1L1506.4 967.6L1507.2 967.6L1508.0 967.4L1508.8 967.9L1509.6 968.1L1510.4 968.5L1511.2 968.4L1512.0 968.3L1512.8 967.6L1513.6 967.1L1514.4 967.0L1515.2 967.6L1516.0 967.6L1516.8 967.2L1517.6 966.9L1518.4 967.2L1519.2 967.4L1520.0 967.4L1520.8 967.1L1521.6 967.1L1522.4 967.3L1523.2 967.3L1524.0 966.6L1524.8 965.6L1525.6 965.3L1526.4 966.5L1527.2 968.1L1528.0 968.5L1528.8 968.2L1529.6 967.9L1530.4 968.7L1531.2 969.5L1532.0 970.0L1532.8 969.8L1533.6 968.9L1534.4 968.0L1535.2 967.2L1536.0 967.3L1536.8 967.3L1537.6 968.2L1538.4 968.4L1539.2 968.8L1540.0 968.1L1540.8 968.0L1541.6 967.5L1542.4 967.9L1543.2 968.0L1544.0 968.2L1544.8 967.3L1545.6 966.4L1546.4 966.1L1547.2 967.2L1548.0 968.1L1548.8 968.5L1549.6 967.8L1550.4 967.6L1551.2 967.8L1552.0 968.4L1552.8 968.4L1553.6 968.0L1554.4 967.6L1555.2 967.7L1556.0 967.3L1556.8 966.7L1557.6 966.4L1558.4 966.9L1559.2 967.5L1560.0 967.7L1560.8 967.1L1561.6 966.5L1562.4 966.2L1563.2 966.5L1564.0 966.4L1564.8 965.8L1565.6 964.8L1566.4 964.8L1567.2 965.2L1568.0 964.7L1568.8 962.3L1569.6 959.1L1570.4 957.0"/>
<path class="c" stroke="#000000" d="M160.5 1056.8L161.3 1057.1L162.1 1057.8L162.9 1058.1L163.7 1058.0L164.5 1057.6L165.3 1057.0L166.1 1056.3L166.9 1055.0L167.7 1053.2L168.5 1051.0L169.3 1048.6L170.1 1046.4L170.9 1044.3L171.7 1043.1L172.5 1042.8L173.3 1044.0L174.1 1046.5L174.9 1049.9L175.7 1052.5L176.5 1054.0L177.3 1054.7L178.1 1055.8L178.9 1056.6L179.7 1057.5L180.5 1057.8L181.3 1058.0L182.1 1058.1L182.9 1058.1L183.7 1058.3L184.5 1058.3L185.3 1058.4L186.1 1058.0L186.9 1058.0L187.7 1057.9L188.5 1058.0L189.3 1057.9L190.1 1058.0L190.9 1058.3L191.7 1058.3L192.5 1058.1L193.3 1057.8L194.1 1058.1L194.9 1058.2L195.7 1058.4L196.5 1058.0L197.3 1057.7L198.1 1057.3L198.9 1057.5L199.7 1057.5L200.5 1058.0L201.3 1058.1L202.1 1058.2L202.9 1057.1L203.7 1055.8L204.5 1054.6L205.3 1054.2L206.1 1054.7L206.9 1055.2L207.7 1056.0L208.5 1056.3L209.3 1056.9L210.1 1057.3L210.9 1058.0L211.7 1058.3L212.5 1058.2L213.3 1057.9L214.1 1057.7L214.9 1058.1L215.7 1058.3L216.5 1058.4L217.3 1058.1L218.1 1058.1L218.9 1057.9L219.7 1057.9L220.5 1058.1L221.3 1058.5L222.1 1058.6L222.9 1058.5L223.7 1058.5L224.5 1058.5L225.3 1058.5L226.1 1058.0L226.9 1057.5L227.7 1057.2L228.5 1057.6L229.3 1057.7L230.1 1057.9L230.9 1057.8L231.7 1058.3L232.5 1058.7L233.3 1058.8L234.1 1058.7L234.9 1058.3L235.7 1058.4L236.5 1058.6L237.3 1059.3L238.1 1059.3L238.9 1059.0L239.7 1058.2L240.5 1058.0L241.3 1057.9L242.1 1058.5L242.9 1058.8L243.7 1059.1L244.5 1058.8L245.3 1058.4L246.1 1058.3L246.9 1058.5L247.7 1059.0L248.5 1059.3L249.3 1059.4L250.1 1058.7L250.9 1058.2L251.7 1058.2L252.5 1058.7L253.3 1059.0L254.1 1059.1L254.9 1058.8L255.7 1058.5L256.5 1058.0L257.3 1058.0L258.1 1058.1L258.9 1058.7L259.7 1058.8L260.5 1058.5L261.3 1057.7L262.1 1057.2L262.9 1057.4L263.7 1058.0L264.5 1058.8L265.3 1059.0L266.1 1059.1L266.9 1058.6L267.7 1058.3L268.5 1057.7L269.3 1057.8L270.1 1057.3L270.9 1057.6L271.7 1057.7L272.5 1058.5L273.3 1058.9L274.1 1059.2L274.9 1058.8L275.7 1058.0L276.5 1057.2L277.3 1056.9L278.1 1057.2L278.9 1058.0L279.7 1058.9L280.5 1059.8L281.3 1059.9L282.1 1059.4L282.9 1058.8L283.7 1058.6L284.5 1058.8L285.3 1058.7L286.1 1058.8L286.9 1058.4L287.7 1058.8L288.5 1058.8L289.3 1058.9L290.1 1058.4L290.9 1058.2L291.7 1058.1L292.5 1058.8L293.3 1059.6L294.1 1060.2L294.9 1059.8L295.7 1058.9L296.5 1058.2L297.3 1058.1L298.1 1058.1L298.9 1058.1L299.7 1058.3L300.5 1058.4L301.3 1058.3L302.1 1058.2L302.9 1058.7L303.7 1059.0L304.5 1059.1L305.3 1059.1L306.1 1059.0L306.9 1058.8L307.7 1058.4L308.5 1058.2L309.3 1058.4L310.1 1058.5L310.9 1058.7L311.7 1058.4L312.5 1058.1L313.3 1057.9L314.1 1057.8L314.9 1058.0L315.7 1057.8L316.5 1057.7L317.3 1057.8L318.1 1058.6L318.9 1059.1L319.7 1059.1L320.5 1058.7L321.3 1058.4L322.1 1058.3L322.9 1058.2L323.7 1058.4L324.5 1058.5L325.3 1059.0L326.1 1058.8L326.9 1058.8L327.7 1058.4L328.5 1058.7L329.3 1058.5L330.1 1058.4L330.9 1058.1L331.7 1058.2L332.5 1058.7L333.3 1059.0L334.1 1059.2L334.9 1058.8L335.7 1058.4L336.5 1057.8L337.3 1058.1L338.1 1058.7L338.9 1059.3L339.7 1059.0L340.5 1058.3L341.3 1057.9L342.1 1058.5L342.9 1058.8L343.7 1059.1L344.5 1058.8L345.3 1059.1L346.1 1059.1L346.9 1059.2L347.7 1058.6L348.5 1058.4L349.3 1057.8L350.1 1057.8L350.9 1057.6L351.7 1058.1L352.5 1058.3L353.3 1058.5L354.1 1058.3L354.9 1057.9L355.7 1057.8L356.5 1057.9L357.3 1058.1L358.1 1058.2L358.9 1058.2L359.7 1058.6L360.5 1058.9L361.3 1059.2L362.1 1058.9L362.9 1058.7L363.7 1057.9L364.5 1057.5L365.3 1057.2L366.1 1057.5L366.9 1057.6L367.7 1057.7L368.5 1057.4L369.3 1057.3L370.1 1056.6L370.9 1056.4L371.7 1056.4L372.5 1057.4L373.3 1057.9L374.1 1057.8L374.9 1057.3L375.7 1056.7L376.5 1056.5L377.3 1056.6L378.1 1057.0L378.9 1057.0L379.7 1056.7L380.5 1056.4L381.3 1056.3L382.1 1056.7L382.9 1056.9L383.7 1056.9L384.5 1056.3L385.3 1055.8L386.1 1055.2L386.9 1055.0L387.7 1054.9L388.5 1054.4L389.3 1054.2L390.1 1053.9L390.9 1053.8L391.7 1052.7L392.5 1051.4L393.3 1048.9L394.1 1045.7L394.9 1040.1L395.7 1032.7L396.5 1022.4L397.3 1009.4L398.1 994.0L398.9 977.3L399.7 960.7L400.5 945.3L401.3 932.6L402.1 924.9L402.9 923.5L403.7 929.2L404.5 940.5L405.3 956.2L406.1 973.3L406.9 990.1L407.7 1004.9L408.5 1017.8L409.3 1028.6L410.1 1037.3L410.9 1043.7L411.7 1048.2L412.5 1050.9L413.3 1052.9L414.1 1053.5L414.9 1054.0L415.7 1054.5L416.5 1055.5L417.3 1056.2L418.1 1056.3L418.9 1055.7L419.7 1055.1L420.5 1054.5L421.3 1054.4L422.1 1054.4L422.9 1054.6L423.7 1055.0L424.5 1055.7L425.3 1056.3L426.1 1056.7L426.9 1056.5L427.7 1056.3L428.5 1055.9L429.3 1055.7L430.1 1055.5L430.9 1055.3L431.7 1055.1L432.5 1054.7L433.3 1054.6L434.1 1054.6L434.9 1054.7L435.7 1054.3L436.5 1053.5L437.3 1052.5L438.1 1051.2L438.9 1049.4L439.7 1046.7L440.5 1042.7L441.3 1036.9L442.1 1028.0L442.9 1015.0L443.7 996.7L444.5 973.5L445.3 945.5L446.1 914.5L446.9 882.5L447.7 853.0L448.5 830.2L449.3 818.1L450.1 819.6L450.9 834.0L451.7 858.7L452.5 889.4L453.3 922.0L454.1 952.9L454.9 979.7L455.7 1001.5L456.5 1018.2L457.3 1030.4L458.1 1038.6L458.9 1043.9L459.7 1047.1L460.5 1049.4L461.3 1051.3L462.1 1052.7L462.9 1053.9L463.7 1054.4L464.5 1055.1L465.3 1055.1L466.1 1055.4L466.9 1054.9L467.7 1054.8L468.5 1054.8L469.3 1055.1L470.1 1055.5L470.9 1055.9L471.7 1056.2L472.5 1056.4L473.3 1056.4L474.1 1056.6L474.9 1056.6L475.7 1056.7L476.0 1056.7L476.2 1056.6L476.5 1056.7L476.8 1056.3L477.0 1056.5L477.2 1056.2L477.5 1056.5L477.8 1056.5L478.0 1056.9L478.2 1056.6L478.5 1056.1L478.8 1055.4L479.0 1055.4L479.2 1055.8L479.5 1055.8L479.8 1055.3L480.0 1054.3L480.2 1053.8L480.5 1052.5L480.8 1050.9L481.0 1048.5L481.2 1045.9L481.5 1042.9L481.8 1039.7L482.0 1036.7L482.2 1032.9L482.5 1028.4L482.8 1022.6L483.0 1016.1L483.2 1008.0L483.5 998.5L483.8 984.5L484.0 968.6L484.2 952.8L484.5 938.5L484.8 924.1L485.0 909.7L485.2 895.5L485.5 881.5L485.8 867.5L486.0 853.5L486.2 839.4L486.5 825.2L486.8 811.0L487.0 796.7L487.2 782.3L487.5 767.7L487.8 753.0L488.0 737.5L488.2 721.5L488.5 705.3L488.8 689.3L489.0 673.3L489.2 656.9L489.5 640.4L489.8 624.2L490.0 608.6L490.2 597.8L490.5 587.5L490.8 570.4L491.0 498.4L491.2 421.1L491.5 420.2L491.8 420.2L492.0 420.0L492.2 419.8L492.5 419.5L492.8 419.6L493.0 420.2L493.2 421.3L493.5 428.9L493.8 560.5L494.0 582.2L494.2 593.9L494.5 603.9L494.8 618.4L495.0 635.0L495.2 651.5L495.5 667.7L495.8 683.7L496.0 699.7L496.2 715.5L496.5 730.7L496.8 746.0L497.0 761.2L497.2 776.3L497.5 790.8L497.8 805.3L498.0 819.6L498.2 834.0L498.5 848.0L498.8 861.9L499.0 876.0L499.2 890.4L499.5 905.0L499.8 919.0L500.0 932.7L500.2 946.4L500.5 961.9L500.8 978.8L501.0 994.6L501.2 1006.0L501.5 1014.3L501.8 1021.3L502.0 1027.4L502.2 1032.7L502.5 1037.3L502.8 1040.9L503.0 1044.0L503.2 1046.5L503.5 1048.6L503.8 1050.7L504.0 1053.1L504.2 1055.0L504.5 1056.0L504.8 1056.6L505.0 1057.1L505.2 1057.9L505.5 1057.9L505.8 1057.7L506.0 1057.0L506.2 1056.4L506.5 1055.9L506.8 1055.7L507.0 1055.9L507.2 1056.1L507.5 1056.3L507.8 1056.2L508.0 1055.9L508.2 1056.0L508.5 1056.1L508.8 1056.5L509.0 1056.5L509.2 1056.4L509.5 1056.6L509.8 1057.1L510.0 1057.6L510.2 1057.5L510.5 1057.2L510.8 1056.7L511.0 1056.4L511.2 1056.7L511.5 1057.4L511.8 1058.0L512.0 1058.1L512.8 1057.8L513.6 1057.3L514.4 1056.8L515.2 1056.9L516.0 1057.4L516.8 1058.0L517.6 1058.0L518.4 1057.8L519.2 1057.6L520.0 1057.9L520.8 1058.1L521.6 1058.6L522.4 1058.6L523.2 1058.7L524.0 1058.2L524.8 1057.9L525.6 1057.4L526.4 1057.5L527.2 1057.7L528.0 1057.8L528.8 1058.2L529.6 1058.6L530.4 1059.0L531.2 1058.8L532.0 1058.6L532.8 1058.8L533.6 1058.8L534.4 1058.9L535.2 1058.4L536.0 1058.4L536.8 1058.4L537.6 1058.2L538.4 1057.8L539.2 1057.7L540.0 1058.1L540.8 1058.3L541.6 1058.4L542.4 1058.5L543.2 1058.9L544.0 1059.1L544.8 1058.9L545.6 1058.5L546.4 1058.4L547.2 1058.6L548.0 1058.5L548.8 1058.4L549.6 1058.5L550.4 1058.7L551.2 1058.8L552.0 1058.4L552.8 1058.0L553.6 1057.8L554.4 1058.0L555.2 1058.2L556.0 1058.4L556.8 1058.3L557.6 1058.3L558.4 1058.4L559.2 1058.6L560.0 1058.5L560.8 1058.3L561.6 1058.3L562.4 1058.4L563.2 1058.6L564.0 1058.7L564.8 1058.6L565.6 1058.6L566.4 1058.9L567.2 1059.1L568.0 1059.1L568.8 1058.6L569.6 1058.6L570.4 1058.6L571.2 1059.2L572.0 1059.4L572.8 1059.6L573.6 1058.9L574.4 1058.4L575.2 1057.5L576.0 1057.3L576.8 1057.0L577.6 1057.2L578.4 1057.2L579.2 1057.4L580.0 1057.5L580.8 1057.5L581.6 1057.5L582.4 1057.7L583.2 1058.0L584.0 1058.2L584.8 1057.9L585.6 1057.7L586.4 1057.7L587.2 1058.3L588.0 1058.6L588.8 1058.9L589.6 1058.9L590.4 1059.4L591.2 1059.5L592.0 1059.8L592.8 1059.5L593.6 1059.5L594.4 1059.3L595.2 1058.9L596.0 1058.5L596.8 1058.3L597.6 1058.5L598.4 1058.6L599.2 1058.9L600.0 1058.9L600.8 1059.2L601.6 1059.1L602.4 1059.3L603.2 1059.1L604.0 1059.3L604.8 1059.3L605.6 1059.6L606.4 1059.6L607.2 1059.2L608.0 1058.3L608.8 1057.4L609.6 1057.0L610.4 1057.0L611.2 1057.3L612.0 1057.3L612.8 1057.6L613.6 1057.9L614.4 1058.0L615.2 1057.7L616.0 1056.9L616.8 1056.9L617.6 1057.2L618.4 1058.0L619.2 1058.6L620.0 1059.5L620.8 1060.0L621.6 1060.3L622.4 1059.7L623.2 1059.4L624.0 1058.9L624.8 1058.7L625.6 1058.6L626.4 1058.9L627.2 1059.1L628.0 1058.6L628.8 1057.8L629.6 1057.4L630.4 1057.9L631.2 1058.6L632.0 1059.0L632.8 1058.9L633.6 1059.1L634.4 1059.2L635.2 1059.2L636.0 1058.7L636.8 1058.2L637.6 1058.3L638.4 1058.3L639.2 1058.5L640.0 1058.4L640.8 1058.8L641.6 1059.1L642.4 1059.0L643.2 1058.5L644.0 1058.0L644.8 1058.2L645.6 1058.3L646.4 1058.4L647.2 1058.0L648.0 1058.1L648.8 1058.3L649.6 1058.7L650.4 1058.5L651.2 1058.4L652.0 1058.5L652.8 1059.0L653.6 1059.6L654.4 1059.6L655.2 1059.2L656.0 1058.3L656.8 1057.8L657.6 1057.7L658.4 1058.1L659.2 1058.2L660.0 1058.5L660.8 1058.6L661.6 1058.9L662.4 1059.3L663.2 1059.4L664.0 1059.6L664.8 1059.5L665.6 1059.5L666.4 1058.9L667.2 1058.7L668.0 1058.4L668.8 1058.6L669.6 1058.6L670.4 1058.5L671.2 1058.6L672.0 1059.0L672.8 1059.4L673.6 1059.4L674.4 1059.2L675.2 1058.9L676.0 1058.9L676.8 1059.0L677.6 1059.3L678.4 1059.4L679.2 1059.3L680.0 1059.1L680.8 1059.0L681.6 1058.9L682.4 1058.7L683.2 1058.3L684.0 1058.0L684.8 1057.8L685.6 1058.3L686.4 1058.9L687.2 1059.0L688.0 1058.7L688.8 1058.2L689.6 1057.9L690.4 1057.4L691.2 1056.8L692.0 1056.7L692.8 1057.0L693.6 1057.4L694.4 1057.1L695.2 1056.3L696.0 1056.1L696.8 1056.3L697.6 1056.9L698.4 1056.9L699.2 1057.2L700.0 1057.3L700.8 1057.4L701.6 1056.7L702.4 1056.3L703.2 1056.0L704.0 1056.2L704.8 1055.8L705.6 1055.6L706.4 1055.0L707.2 1054.9L708.0 1054.4L708.8 1053.7L709.6 1052.3L710.4 1050.2L711.2 1047.5L712.0 1043.7L712.8 1038.3L713.6 1030.3L714.4 1019.4L715.2 1005.5L716.0 989.2L716.8 971.7L717.6 955.3L718.4 943.9L719.2 941.3L720.0 948.9L720.8 963.6L721.6 981.2L722.4 998.6L723.2 1013.8L724.0 1026.2L724.8 1035.8L725.6 1042.7L726.4 1047.1L727.2 1049.6L728.0 1051.1L728.8 1052.0L729.6 1052.8L730.4 1053.3L731.2 1053.9L732.0 1054.6L732.8 1054.8L733.6 1055.0L734.4 1054.9L735.2 1055.2L736.0 1054.3L736.8 1053.6L737.6 1052.5L738.4 1052.0L739.2 1051.4L740.0 1050.7L740.8 1050.3L741.6 1050.1L742.4 1050.3L743.2 1050.6L744.0 1051.3L744.8 1052.2L745.6 1053.3L746.4 1054.5L747.2 1055.5L748.0 1056.4L748.8 1056.7L749.6 1057.0L750.4 1057.1L751.2 1057.5L752.0 1057.6L752.8 1057.6L753.6 1057.7L754.4 1058.2L755.2 1058.6L756.0 1059.2L756.8 1059.3L757.6 1059.3L758.4 1058.6L759.2 1058.2L760.0 1058.0L760.8 1058.1L761.6 1058.2L762.4 1058.2L763.2 1058.3L764.0 1058.2L764.8 1058.5L765.6 1058.8L766.4 1059.0L767.2 1058.9L768.0 1058.8L768.8 1058.7L769.6 1058.8L770.4 1058.9L771.2 1059.5L772.0 1059.7L772.8 1059.8L773.6 1059.4L774.4 1059.2L775.2 1058.9L776.0 1058.8L776.8 1058.7L777.6 1058.7L778.4 1058.7L779.2 1058.8L780.0 1058.9L780.8 1059.0L781.6 1058.9L782.4 1058.7L783.2 1058.4L784.0 1058.4L784.8 1058.4L785.6 1058.4L786.4 1058.4L787.2 1058.4L788.0 1058.4L788.8 1058.2L789.6 1058.0L790.4 1058.0L791.2 1058.0L792.0 1058.2L792.8 1057.8L793.6 1057.6L794.4 1057.4L795.2 1057.5L796.0 1058.1L796.8 1058.6L797.6 1058.9L798.4 1058.5L799.2 1058.6L800.0 1058.5L800.8 1058.7L801.6 1058.5L802.4 1058.2L803.2 1058.5L804.0 1059.0L804.8 1059.6L805.6 1059.5L806.4 1059.2L807.2 1058.9L808.0 1058.8L808.8 1058.6L809.6 1058.3L810.4 1058.2L811.2 1058.1L812.0 1058.3L812.8 1058.3L813.6 1058.3L814.4 1058.4L815.2 1058.8L816.0 1059.3L816.8 1059.7L817.6 1059.9L818.4 1059.8L819.2 1058.9L820.0 1058.0L820.8 1057.4L821.6 1057.4L822.4 1057.5L823.2 1057.4L824.0 1057.4L824.8 1057.9L825.6 1058.3L826.4 1058.7L827.2 1058.0L828.0 1057.8L828.8 1057.4L829.6 1057.5L830.4 1057.2L831.2 1056.9L832.0 1056.5L832.8 1055.9L833.6 1055.4L834.4 1054.7L835.2 1054.3L836.0 1053.7L836.8 1053.3L837.6 1053.5L838.4 1054.3L839.2 1055.6L840.0 1056.5L840.8 1056.9L841.6 1057.1L842.4 1057.5L843.2 1058.1L844.0 1058.8L844.8 1059.4L845.6 1059.6L846.4 1059.8L847.2 1059.8L848.0 1060.0L848.8 1059.8L849.6 1059.5L850.4 1059.0L851.2 1058.6L852.0 1058.3L852.8 1058.1L853.6 1057.8L854.4 1057.6L855.2 1057.2L856.0 1057.5L856.8 1057.6L857.6 1058.0L858.4 1058.1L859.2 1058.3L860.0 1058.2L860.8 1058.0L861.6 1058.1L862.4 1058.2L863.2 1058.2L864.0 1057.9L864.8 1057.8L865.6 1057.9L866.4 1058.4L867.2 1058.7L868.0 1058.7L868.8 1058.4L869.6 1058.6L870.4 1059.2L871.2 1059.7L872.0 1059.5L872.8 1058.8L873.6 1058.4L874.4 1058.1L875.2 1058.0L876.0 1057.5L876.8 1057.3L877.6 1057.1L878.4 1057.3L879.2 1057.3L880.0 1057.4L880.8 1057.4L881.6 1057.5L882.4 1057.4L883.2 1057.4L884.0 1057.4L884.8 1057.7L885.6 1058.0L886.4 1058.1L887.2 1057.8L888.0 1057.4L888.8 1057.2L889.6 1057.0L890.4 1056.2L891.2 1055.7L892.0 1055.4L892.8 1056.0L893.6 1055.8L894.4 1055.2L895.2 1053.9L896.0 1052.9L896.8 1052.4L897.6 1051.6L898.4 1050.5L899.2 1048.5L900.0 1045.9L900.8 1042.1L901.6 1037.2L902.4 1030.8L903.2 1023.2L904.0 1014.4L904.8 1004.7L905.6 994.6L906.4 985.0L907.2 977.3L908.0 973.2L908.8 973.6L909.6 977.9L910.4 984.9L911.2 993.5L912.0 1002.7L912.8 1012.2L913.6 1020.9L914.4 1028.6L915.2 1035.5L916.0 1041.2L916.8 1046.0L917.6 1049.3L918.4 1051.5L919.2 1052.4L920.0 1053.3L920.8 1054.1L921.6 1054.9L922.4 1054.7L923.2 1054.6L924.0 1054.7L924.8 1055.7L925.6 1056.8L926.4 1057.9L927.2 1058.4L928.0 1058.6L928.8 1058.0L929.6 1057.6L930.4 1057.1L931.2 1057.3L932.0 1057.4L932.8 1057.7L933.6 1057.4L934.4 1057.6L935.2 1057.7L936.0 1058.1L936.8 1057.9L937.6 1057.4L938.4 1057.3L939.2 1057.7L940.0 1058.4L940.8 1058.7L941.6 1058.5L942.4 1058.2L943.2 1058.0L944.0 1058.6L944.8 1058.8L945.6 1059.0L946.4 1058.7L947.2 1058.8L948.0 1058.8L948.8 1058.9L949.6 1058.8L950.4 1058.8L951.2 1058.5L952.0 1058.3L952.8 1058.2L953.6 1058.5L954.4 1058.5L955.2 1058.6L956.0 1058.3L956.8 1058.6L957.6 1059.0L958.4 1059.6L959.2 1059.7L960.0 1059.3L960.8 1058.6L961.6 1058.3L962.4 1058.0L963.2 1057.9L964.0 1057.6L964.8 1057.4L965.6 1057.2L966.4 1057.2L967.2 1057.3L968.0 1057.3L968.8 1057.1L969.6 1057.0L970.4 1057.0L971.2 1056.7L972.0 1056.1L972.8 1055.0L973.6 1053.5L974.4 1052.2L975.2 1050.8L976.0 1049.2L976.8 1046.9L977.6 1044.2L978.4 1041.3L979.2 1038.3L980.0 1035.7L980.8 1034.1L981.6 1034.3L982.4 1036.0L983.2 1038.7L984.0 1041.0L984.8 1043.7L985.6 1046.1L986.4 1048.6L987.2 1050.6L988.0 1052.3L988.8 1053.6L989.6 1054.6L990.4 1055.3L991.2 1056.0L992.0 1056.7L992.8 1057.2L993.6 1057.2L994.4 1057.0L995.2 1056.7L996.0 1056.7L996.8 1057.1L997.6 1057.2L998.4 1057.0L999.2 1056.4L1000.0 1056.2L1000.8 1056.1L1001.6 1056.3L1002.4 1056.3L1003.2 1056.2L1004.0 1056.1L1004.8 1056.0L1005.6 1055.9L1006.4 1055.9L1007.2 1056.0L1008.0 1055.9L1008.8 1055.5L1009.6 1054.9L1010.4 1054.5L1011.2 1054.1L1012.0 1053.9L1012.8 1053.2L1013.6 1052.3L1014.4 1050.8L1015.2 1048.9L1016.0 1046.0L1016.8 1041.8L1017.6 1036.4L1018.4 1029.5L1019.2 1020.4L1020.0 1008.7L1020.8 994.3L1021.6 978.4L1022.4 962.5L1023.2 949.0L1024.0 940.4L1024.8 939.0L1025.6 945.6L1026.4 958.3L1027.2 974.0L1028.0 989.7L1028.8 1003.9L1029.6 1016.4L1030.4 1026.8L1031.2 1035.1L1032.0 1041.1L1032.8 1045.3L1033.6 1048.4L1034.4 1050.7L1035.2 1052.0L1036.0 1052.9L1036.8 1053.7L1037.6 1054.6L1038.4 1055.2L1039.2 1055.6L1040.0 1055.7L1040.8 1056.1L1041.6 1056.4L1042.4 1056.9L1043.2 1057.2L1044.0 1057.4L1044.8 1057.5L1045.6 1057.4L1046.4 1057.5L1047.2 1057.5L1048.0 1057.7L1048.8 1057.2L1049.6 1056.5L1050.4 1055.8L1051.2 1056.1L1052.0 1056.8L1052.8 1057.7L1053.6 1058.5L1054.4 1059.0L1055.2 1059.6L1056.0 1059.7L1056.8 1060.0L1057.6 1059.5L1058.4 1059.1L1059.2 1058.5L1060.0 1058.7L1060.8 1058.8L1061.6 1058.8L1062.4 1058.3L1063.2 1058.0L1064.0 1057.7L1064.8 1058.0L1065.6 1058.1L1066.4 1058.7L1067.2 1058.8L1068.0 1059.1L1068.8 1059.1L1069.6 1059.0L1070.4 1058.7L1071.2 1058.5L1072.0 1058.2L1072.8 1058.5L1073.6 1058.6L1074.4 1059.0L1075.2 1058.9L1076.0 1059.0L1076.8 1058.8L1077.6 1058.7L1078.4 1058.6L1079.2 1058.6L1080.0 1058.6L1080.8 1058.7L1081.6 1058.7L1082.4 1058.4L1083.2 1058.1L1084.0 1057.5L1084.8 1057.4L1085.6 1057.4L1086.4 1058.0L1087.2 1058.3L1088.0 1058.5L1088.8 1058.2L1089.6 1058.2L1090.4 1057.9L1091.2 1058.2L1092.0 1058.4L1092.8 1059.1L1093.6 1059.4L1094.4 1059.6L1095.2 1059.3L1096.0 1059.0L1096.8 1058.8L1097.6 1058.6L1098.4 1058.2L1099.2 1058.0L1100.0 1057.8L1100.8 1058.1L1101.6 1058.4L1102.4 1058.7L1103.2 1058.4L1104.0 1057.9L1104.8 1057.6L1105.6 1057.4L1106.4 1058.1L1107.2 1058.6L1108.0 1059.2L1108.8 1058.4L1109.6 1057.6L1110.4 1057.0L1111.2 1057.0L1112.0 1057.2L1112.8 1057.4L1113.6 1057.6L1114.4 1057.6L1115.2 1057.5L1116.0 1057.1L1116.8 1056.5L1117.6 1055.7L1118.4 1055.1L1119.2 1054.9L1120.0 1055.0L1120.8 1055.0L1121.6 1054.6L1122.4 1053.6L1123.2 1052.5L1124.0 1050.5L1124.8 1048.1L1125.6 1044.8L1126.4 1040.5L1127.2 1034.3L1128.0 1026.1L1128.8 1015.9L1129.6 1003.9L1130.4 989.9L1131.2 974.2L1132.0 957.9L1132.8 942.1L1133.6 928.7L1134.4 919.2L1135.2 915.3L1136.0 917.6L1136.8 925.5L1137.6 937.7L1138.4 952.7L1139.2 969.0L1140.0 985.4L1140.8 1000.5L1141.6 1014.0L1142.4 1024.9L1143.2 1033.4L1144.0 1039.7L1144.8 1044.4L1145.6 1047.4L1146.4 1049.4L1147.2 1049.9L1148.0 1050.5L1148.8 1050.6L1149.6 1050.7L1150.4 1050.3L1151.2 1049.5L1152.0 1048.3L1152.8 1046.3L1153.6 1043.6L1154.4 1040.3L1155.2 1037.2L1156.0 1033.9L1156.8 1030.8L1157.6 1027.5L1158.4 1024.6L1159.2 1022.1L1160.0 1019.6L1160.8 1017.5L1161.6 1016.1L1162.4 1016.2L1163.2 1017.4L1164.0 1019.3L1164.8 1021.9L1165.6 1025.0L1166.4 1028.7L1167.2 1032.5L1168.0 1036.2L1168.8 1039.5L1169.6 1042.1L1170.4 1044.3L1171.2 1046.5L1172.0 1048.8L1172.8 1051.3L1173.6 1053.1L1174.4 1054.3L1175.2 1054.8L1176.0 1055.1L1176.8 1055.4L1177.6 1055.7L1178.4 1056.3L1179.2 1056.8L1180.0 1057.2L1180.8 1057.2L1181.6 1057.3L1182.4 1057.8L1183.2 1058.4L1184.0 1058.6L1184.8 1058.1L1185.6 1057.7L1186.4 1057.6L1187.2 1057.9L1188.0 1058.4L1188.8 1058.6L1189.6 1058.3L1190.4 1057.7L1191.2 1057.4L1192.0 1057.6L1192.8 1058.0L1193.6 1058.2L1194.4 1057.9L1195.2 1057.8L1196.0 1057.6L1196.8 1057.5L1197.6 1057.9L1198.4 1058.4L1199.2 1058.8L1200.0 1058.3L1200.8 1058.2L1201.6 1057.8L1202.4 1058.3L1203.2 1058.2L1204.0 1058.0L1204.8 1057.0L1205.6 1056.7L1206.4 1056.6L1207.2 1056.8L1208.0 1056.3L1208.8 1055.6L1209.6 1055.1L1210.4 1054.8L1211.2 1053.7L1212.0 1051.6L1212.8 1048.5L1213.6 1044.9L1214.4 1041.0L1215.2 1037.3L1216.0 1033.7L1216.8 1030.1L1217.6 1027.1L1218.4 1025.8L1219.2 1027.2L1220.0 1030.7L1220.8 1035.0L1221.6 1038.8L1222.4 1042.4L1223.2 1045.7L1224.0 1048.8L1224.8 1051.7L1225.6 1053.9L1226.4 1055.3L1227.2 1055.8L1228.0 1056.0L1228.8 1056.5L1229.6 1056.7L1230.4 1057.1L1231.2 1057.3L1232.0 1057.8L1232.8 1058.1L1233.6 1058.2L1234.4 1058.0L1235.2 1057.8L1236.0 1057.5L1236.8 1057.5L1237.6 1057.4L1238.4 1057.4L1239.2 1057.5L1240.0 1058.0L1240.8 1059.0L1241.6 1059.8L1242.4 1060.1L1243.2 1060.1L1244.0 1060.1L1244.8 1059.9L1245.6 1059.4L1246.4 1059.0L1247.2 1058.8L1248.0 1058.9L1248.8 1058.9L1249.6 1058.8L1250.4 1058.6L1251.2 1058.8L1252.0 1059.1L1252.8 1059.4L1253.6 1059.2L1254.4 1058.7L1255.2 1058.5L1256.0 1058.5L1256.8 1058.8L1257.6 1059.0L1258.4 1059.3L1259.2 1059.2L1260.0 1059.4L1260.8 1059.6L1261.6 1059.7L1262.4 1059.1L1263.2 1058.6L1264.0 1058.2L1264.8 1058.4L1265.6 1058.7L1266.4 1058.9L1267.2 1058.9L1268.0 1058.6L1268.8 1058.5L1269.6 1058.3L1270.4 1058.3L1271.2 1058.2L1272.0 1058.3L1272.8 1058.3L1273.6 1058.2L1274.4 1058.4L1275.2 1058.7L1276.0 1059.2L1276.8 1059.3L1277.6 1059.1L1278.4 1058.8L1279.2 1058.5L1280.0 1058.4L1280.8 1058.3L1281.6 1058.5L1282.4 1058.8L1283.2 1058.9L1284.0 1059.0L1284.8 1058.9L1285.6 1059.1L1286.4 1059.2L1287.2 1059.5L1288.0 1059.6L1288.8 1059.9L1289.6 1059.7L1290.4 1059.4L1291.2 1058.8L1292.0 1058.9L1292.8 1059.1L1293.6 1059.5L1294.4 1059.3L1295.2 1059.2L1296.0 1059.2L1296.8 1059.2L1297.6 1059.2L1298.4 1059.4L1299.2 1059.6L1300.0 1059.8L1300.8 1059.8L1301.6 1059.6L1302.4 1058.8L1303.2 1058.0L1304.0 1057.7L1304.8 1057.9L1305.6 1057.7L1306.4 1057.2L1307.2 1056.7L1308.0 1056.6L1308.8 1056.3L1309.6 1056.0L1310.4 1055.4L1311.2 1054.8L1312.0 1053.6L1312.8 1052.2L1313.6 1050.7L1314.4 1049.4L1315.2 1048.2L1316.0 1047.4L1316.8 1046.7L1317.6 1045.9L1318.4 1044.9L1319.2 1044.1L1320.0 1043.3L1320.8 1043.2L1321.6 1043.6L1322.4 1045.0L1323.2 1046.5L1324.0 1047.9L1324.8 1048.9L1325.6 1049.8L1326.4 1050.8L1327.2 1051.9L1328.0 1053.2L1328.8 1054.5L1329.6 1055.5L1330.4 1056.4L1331.2 1056.8L1332.0 1057.3L1332.8 1057.6L1333.6 1058.0L1334.4 1058.2L1335.2 1058.5L1336.0 1058.6L1336.8 1058.9L1337.6 1058.7L1338.4 1058.5L1339.2 1058.1L1340.0 1058.4L1340.8 1058.8L1341.6 1059.1L1342.4 1058.5L1343.2 1058.0L1344.0 1057.9L1344.8 1058.5L1345.6 1058.9L1346.4 1059.3L1347.2 1059.3L1348.0 1059.2L1348.8 1058.9L1349.6 1058.8L1350.4 1058.8L1351.2 1059.2L1352.0 1059.5L1352.8 1059.7L1353.6 1059.3L1354.4 1058.8L1355.2 1058.4L1356.0 1058.6L1356.8 1059.1L1357.6 1059.5L1358.4 1059.8L1359.2 1059.5L1360.0 1059.1L1360.8 1058.5L1361.6 1058.1L1362.4 1058.1L1363.2 1058.4L1364.0 1058.8L1364.8 1059.0L1365.6 1059.3L1366.4 1059.4L1367.2 1059.4L1368.0 1059.4L1368.8 1059.2L1369.6 1058.9L1370.4 1058.6L1371.2 1058.9L1372.0 1059.5L1372.8 1059.8L1373.6 1059.6L1374.4 1058.9L1375.2 1058.5L1376.0 1058.3L1376.8 1058.3L1377.6 1058.7L1378.4 1058.8L1379.2 1058.8L1380.0 1058.3L1380.8 1058.0L1381.6 1058.0L1382.4 1058.6L1383.2 1059.5L1384.0 1059.9L1384.8 1059.7L1385.6 1059.3L1386.4 1058.6L1387.2 1057.6L1388.0 1056.7L1388.8 1056.3L1389.6 1056.6L1390.4 1056.9L1391.2 1057.2L1392.0 1056.6L1392.8 1055.6L1393.6 1053.7L1394.4 1051.5L1395.2 1048.6L1396.0 1045.5L1396.8 1042.1L1397.6 1039.5L1398.4 1038.4L1399.2 1039.0L1400.0 1041.4L1400.8 1044.5L1401.6 1047.8L1402.4 1050.2L1403.2 1052.1L1404.0 1053.9L1404.8 1055.6L1405.6 1056.8L1406.4 1057.0L1407.2 1056.8L1408.0 1056.5L1408.8 1056.8L1409.6 1057.4L1410.4 1057.8L1411.2 1058.1L1412.0 1058.3L1412.8 1058.9L1413.6 1059.3L1414.4 1059.5L1415.2 1059.1L1416.0 1058.9L1416.8 1058.4L1417.6 1058.0L1418.4 1057.7L1419.2 1057.9L1420.0 1058.3L1420.8 1058.3L1421.6 1058.1L1422.4 1058.1L1423.2 1058.9L1424.0 1059.4L1424.8 1059.9L1425.6 1059.5L1426.4 1059.4L1427.2 1059.3L1428.0 1059.2L1428.8 1059.0L1429.6 1059.0L1430.4 1059.1L1431.2 1059.1L1432.0 1059.5L1432.8 1060.0L1433.6 1060.5L1434.4 1060.0L1435.2 1059.3L1436.0 1058.7L1436.8 1058.7L1437.6 1058.9L1438.4 1059.0L1439.2 1059.0L1440.0 1059.1L1440.8 1059.3L1441.6 1059.2L1442.4 1059.1L1443.2 1059.1L1444.0 1059.4L1444.8 1059.5L1445.6 1059.5L1446.4 1059.4L1447.2 1059.5L1448.0 1059.5L1448.8 1059.5L1449.6 1059.6L1450.4 1059.7L1451.2 1059.5L1452.0 1059.1L1452.8 1058.7L1453.6 1058.6L1454.4 1058.8L1455.2 1058.9L1456.0 1058.7L1456.8 1058.6L1457.6 1058.5L1458.4 1059.0L1459.2 1059.6L1460.0 1060.6L1460.8 1061.0L1461.6 1060.6L1462.4 1059.8L1463.2 1059.0L1464.0 1058.8L1464.8 1059.1L1465.6 1059.3L1466.4 1059.2L1467.2 1058.9L1468.0 1059.2L1468.8 1059.3L1469.6 1059.5L1470.4 1059.2L1471.2 1059.1L1472.0 1059.0L1472.8 1059.4L1473.6 1059.4L1474.4 1059.7L1475.2 1059.4L1476.0 1059.3L1476.8 1058.8L1477.6 1059.0L1478.4 1059.3L1479.2 1059.8L1480.0 1059.5L1480.8 1059.1L1481.6 1058.5L1482.4 1058.6L1483.2 1058.9L1484.0 1059.0L1484.8 1058.0L1485.6 1056.9L1486.4 1056.3L1487.2 1056.6L1488.0 1056.8L1488.8 1056.5L1489.6 1056.1L1490.4 1055.9L1491.2 1055.8L1492.0 1055.4L1492.8 1055.3L1493.6 1055.5L1494.4 1055.9L1495.2 1056.1L1496.0 1056.0L1496.8 1056.0L1497.6 1056.4L1498.4 1057.0L1499.2 1058.0L1500.0 1058.5L1500.8 1058.6L1501.6 1058.4L1502.4 1058.4L1503.2 1058.7L1504.0 1058.8L1504.8 1058.7L1505.6 1058.8L1506.4 1059.1L1507.2 1059.6L1508.0 1059.6L1508.8 1059.4L1509.6 1058.9L1510.4 1058.9L1511.2 1059.1L1512.0 1059.5L1512.8 1059.5L1513.6 1059.3L1514.4 1059.1L1515.2 1058.9L1516.0 1058.6L1516.8 1058.2L1517.6 1058.3L1518.4 1058.7L1519.2 1059.1L1520.0 1059.5L1520.8 1059.7L1521.6 1059.9L1522.4 1059.5L1523.2 1059.0L1524.0 1058.7L1524.8 1058.8L1525.6 1059.5L1526.4 1059.7L1527.2 1059.8L1528.0 1059.2L1528.8 1059.0L1529.6 1059.0L1530.4 1059.4L1531.2 1059.6L1532.0 1059.6L1532.8 1059.6L1533.6 1059.8L1534.4 1060.1L1535.2 1060.0L1536.0 1059.7L1536.8 1059.1L1537.6 1059.3L1538.4 1059.9L1539.2 1060.4L1540.0 1060.4L1540.8 1059.7L1541.6 1058.9L1542.4 1058.3L1543.2 1058.4L1544.0 1058.8L1544.8 1058.6L1545.6 1058.5L1546.4 1058.1L1547.2 1058.4L1548.0 1058.5L1548.8 1059.0L1549.6 1059.0L1550.4 1058.9L1551.2 1058.7L1552.0 1058.5L1552.8 1058.3L1553.6 1057.9L1554.4 1058.2L1555.2 1058.7L1556.0 1059.5L1556.8 1059.7L1557.6 1059.7L1558.4 1059.5L1559.2 1059.3L1560.0 1058.8L1560.8 1058.4L1561.6 1058.0L1562.4 1058.2L1563.2 1058.3L1564.0 1058.4L1564.8 1057.8L1565.6 1057.3L1566.4 1056.6L1567.2 1055.6L1568.0 1053.7L1568.8 1050.7L1569.6 1047.1L1570.4 1043.2"/>
</g>
<g id="frame" fill="#000">
<rect x="158.3" y="78.5" width="2.8" height="1042.5"/>
<rect x="160.8" y="76" width="1411.2" height="4.9"/>
<rect x="1569.1" y="78.6" width="5.5" height="1042.1"/>
<rect x="160.8" y="1118.2" width="1411" height="5.6"/>
<rect x="360.0" y="1099" width="3" height="20"/>
<rect x="561.9" y="1099" width="3" height="20"/>
<rect x="763.8" y="1099" width="3" height="20"/>
<rect x="965.7" y="1099" width="3" height="20"/>
<rect x="1167.6" y="1099" width="3" height="20"/>
<rect x="1369.5" y="1099" width="3" height="20"/>
</g>
<g id="markers" fill="#000">
<rect x="480.2" y="111.5" width="24.7" height="21.5"/>
<rect x="393.1" y="648.9" width="22.0" height="23.9"/>
<rect x="437.8" y="626.9" width="23.7" height="24.9"/>
<rect x="709.6" y="668.8" width="21.8" height="23.2"/>
<rect x="900.9" y="617.0" width="21.5" height="20.7"/>
<rect x="1015.9" y="657.7" width="23.7" height="22.6"/>
<rect x="1103.3" y="745.0" width="20.9" height="20.8"/>
<rect x="1127.5" y="679.2" width="24.2" height="21.5"/>
<rect x="1157.0" y="703.5" width="22.0" height="21.5"/>
<rect x="1209.0" y="734.3" width="22.2" height="22.9"/>
<rect x="1312.7" y="731.2" width="21.8" height="21.5"/>
<rect x="1389.0" y="733.8" width="24.5" height="23.8"/>
<path d="M185.4 703.9 h30.5 l-15.2 26.5 z"/>
<path d="M608.2 729.5 h30.1 l-15.1 24.5 z"/>
<path d="M800.3 726.7 h30.0 l-15.0 25.0 z"/>
<path d="M1061.0 715.0 h30.2 l-15.1 24.0 z"/>
<path d="M462.4 644.0 l13.8 -14.4 l13.8 14.4 l-13.8 14.4 z" fill="#fff" stroke="#000" stroke-width="2.2"/>
<path d="M896.9 663.9 l14.8 -13.8 l14.8 13.8 l-14.8 13.8 z" fill="#fff" stroke="#000" stroke-width="2.2"/>
<circle cx="170.9" cy="1024.1" r="12.1"/>
<circle cx="980.8" cy="1012.7" r="12.3"/>
</g>
<g id="legend" fill="#000">
<rect x="1080.6" y="117" width="22.3" height="21.8"/>
<path d="M1077.2 204.7 L1092.1 190.9 L1107 204.7 L1092.1 218.5 z" fill="#fff" stroke="#000" stroke-width="1.9"/>
<path d="M1075.2 300.7 h32.4 l-16.2 26 z"/>
<circle cx="1091.0" cy="408.7" r="13.5"/>
</g>
<g id="ticklabels" font-size="69">
<text x="159.6" y="1194.2" text-anchor="middle">20</text>
<text x="361.5" y="1194.2" text-anchor="middle">30</text>
<text x="563.4" y="1194.2" text-anchor="middle">40</text>
<text x="765.3" y="1194.2" text-anchor="middle">50</text>
<text x="967.2" y="1194.2" text-anchor="middle">60</text>
<text x="1169.1" y="1194.2" text-anchor="middle">70</text>
<text x="1371.0" y="1194.2" text-anchor="middle">80</text>
<text x="1572.9" y="1194.2" text-anchor="middle">90</text>
</g>
<g id="legendtext" font-size="70">
<text x="1118.5" y="145" font-size="69">α-Mg</text>
<text x="1117.3" y="229.3">Mg<tspan font-size="45.5" dy="19.3">12</tspan><tspan dy="-19.3">Zn(Gd,Y)</tspan></text>
<text x="1118.2" y="332.4">Mg<tspan font-size="45.5" dy="19.3">3</tspan><tspan dy="-19.3">Zn</tspan><tspan font-size="45.5" dy="19.3">3</tspan><tspan dy="-19.3">(Gd,Y)</tspan><tspan font-size="45.5" dy="19.3">2</tspan></text>
<text x="1118.2" y="433">Mg<tspan font-size="45.5" dy="19.3">5</tspan><tspan dy="-19.3">(Gd,Y)</tspan></text>
</g>
<text x="865.5" y="1270.3" font-size="69" text-anchor="middle">2θ (°)</text>
<text transform="translate(87 599.3) rotate(-90)" font-size="67.3" text-anchor="middle">intensity (a.u.)</text>
</svg>
</body></html>
